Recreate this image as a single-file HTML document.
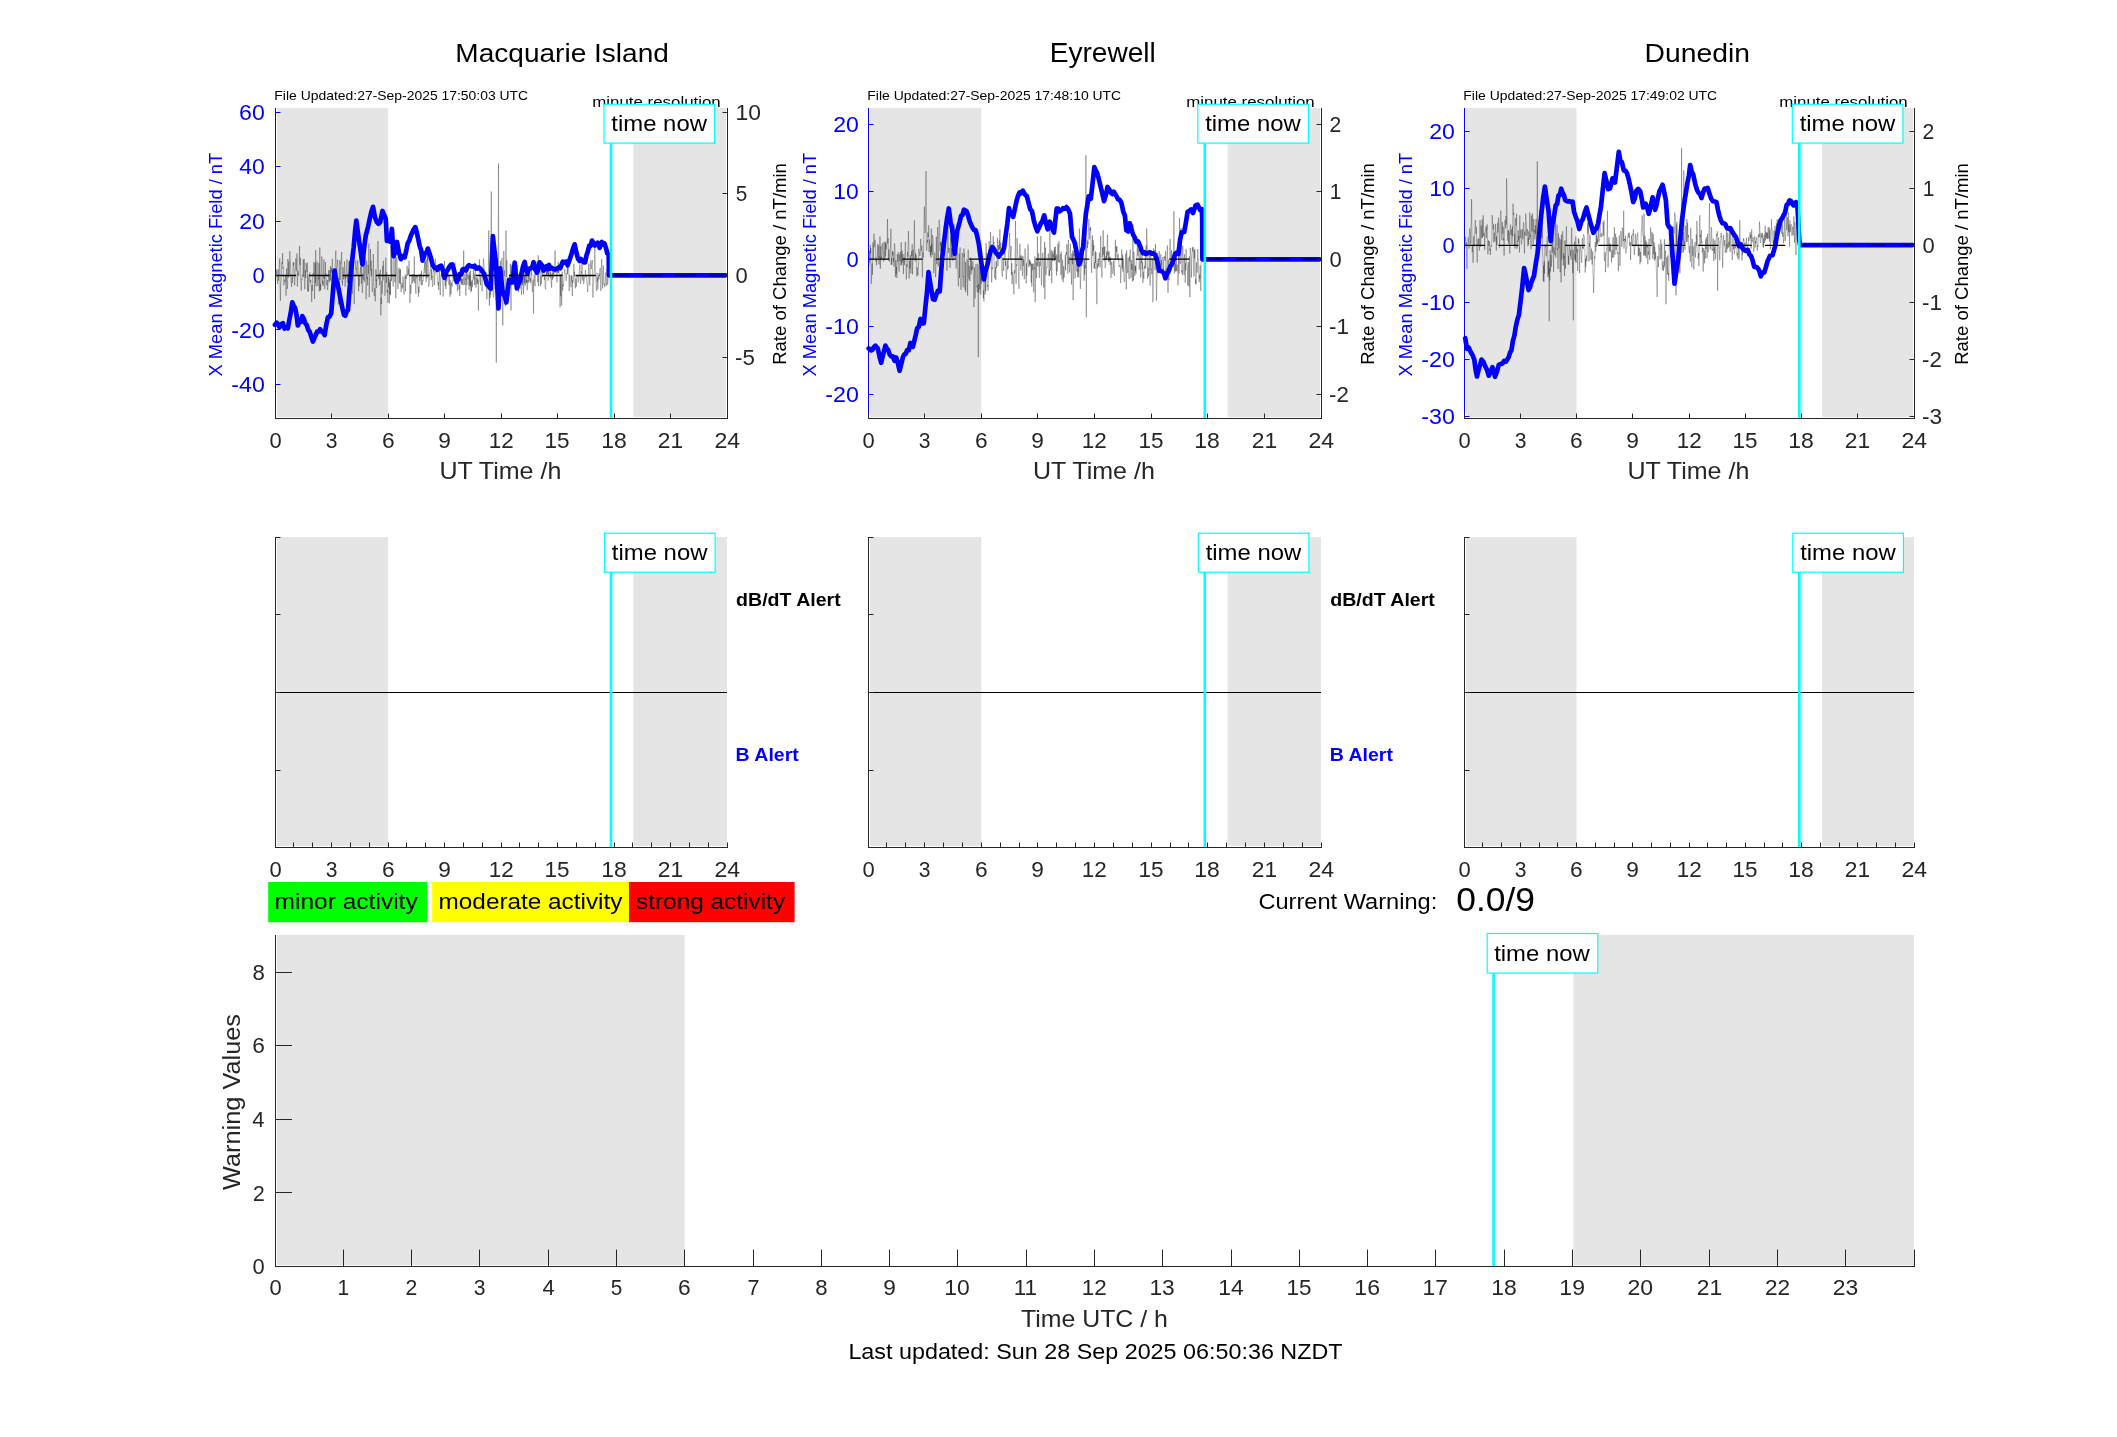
<!DOCTYPE html>
<html><head><meta charset="utf-8"><style>
html,body{margin:0;padding:0;background:#fff;overflow:hidden;width:2117px;height:1437px;}
svg{display:block;will-change:transform;}
text{font-family:"Liberation Sans",sans-serif;}
</style></head><body>
<svg width="2117" height="1437" viewBox="0 0 2117 1437">
<rect width="2117" height="1437" fill="#fff"/>
<rect x="277.00" y="108.00" width="111.00" height="309.00" fill="#e5e5e5" />
<rect x="633.30" y="108.00" width="92.70" height="309.00" fill="#e5e5e5" />
<polyline points="276.0,272.4 276.3,273.6 276.6,269.6 276.9,276.1 277.3,281.4 277.6,283.8 277.9,270.2 278.2,269.3 278.5,280.8 278.8,275.5 279.1,273.3 279.4,261.9 279.8,258.3 280.1,286.6 280.4,300.8 280.7,286.2 281.0,281.0 281.3,280.6 281.6,263.7 281.9,262.1 282.3,264.1 282.6,253.0 282.9,268.7 283.2,266.8 283.5,275.2 283.8,285.4 284.1,284.1 284.4,279.7 284.8,280.1 285.1,281.8 285.4,275.9 285.7,277.2 286.0,295.6 286.3,282.8 286.6,268.4 287.0,281.4 287.3,288.9 287.6,285.2 287.9,259.0 288.2,277.7 288.5,271.7 288.8,261.6 289.1,274.6 289.5,272.7 289.8,251.2 290.1,258.3 290.4,264.2 290.7,269.5 291.0,280.7 291.3,282.9 291.6,286.9 292.0,276.9 292.3,283.1 292.6,279.2 292.9,271.3 293.2,262.5 293.5,265.6 293.8,262.3 294.1,272.8 294.5,285.3 294.8,285.3 295.1,273.7 295.4,268.8 295.7,258.4 296.0,258.8 296.3,270.8 296.6,269.9 297.0,253.5 297.3,286.6 297.6,282.8 297.9,270.8 298.2,274.6 298.5,273.8 298.8,275.9 299.2,268.7 299.5,245.8 299.8,262.5 300.1,264.9 300.4,257.9 300.7,282.8 301.0,284.7 301.3,290.8 301.7,278.8 302.0,279.5 302.3,274.8 302.6,274.8 302.9,276.3 303.2,259.4 303.5,274.6 303.8,277.1 304.2,258.8 304.5,287.0 304.8,289.2 305.1,286.9 305.4,269.8 305.7,278.0 306.0,263.2 306.3,266.4 306.7,268.5 307.0,272.3 307.3,262.4 307.6,291.2 307.9,274.6 308.2,274.6 308.5,291.7 308.9,286.3 309.2,283.3 309.5,276.7 309.8,272.5 310.1,279.2 310.4,282.3 310.7,279.9 311.0,283.0 311.4,288.6 311.7,301.9 312.0,285.0 312.3,291.0 312.6,275.7 312.9,275.4 313.2,273.0 313.5,274.7 313.9,261.9 314.2,270.7 314.5,299.0 314.8,279.7 315.1,263.2 315.4,282.9 315.7,250.1 316.0,286.3 316.4,268.4 316.7,267.2 317.0,261.4 317.3,264.0 317.6,280.9 317.9,286.2 318.2,277.4 318.6,279.3 318.9,263.1 319.2,291.4 319.5,285.0 319.8,247.5 320.1,290.6 320.4,283.9 320.7,290.3 321.1,283.1 321.4,267.9 321.7,256.5 322.0,259.2 322.3,276.3 322.6,284.3 322.9,280.8 323.2,286.2 323.6,269.7 323.9,259.3 324.2,278.6 324.5,275.1 324.8,289.1 325.1,277.8 325.4,262.0 325.7,275.5 326.1,273.5 326.4,282.0 326.7,285.4 327.0,284.2 327.3,280.0 327.6,290.0 327.9,286.7 328.3,279.9 328.6,270.0 328.9,277.4 329.2,282.4 329.5,279.3 329.8,270.5 330.1,280.2 330.4,266.0 330.8,280.8 331.1,278.4 331.4,267.9 331.7,272.6 332.0,266.0 332.3,258.8 332.6,266.4 332.9,276.8 333.3,269.2 333.6,286.5 333.9,283.9 334.2,279.3 334.5,271.3 334.8,281.6 335.1,277.4 335.4,257.5 335.8,250.6 336.1,262.6 336.4,270.7 336.7,268.0 337.0,265.7 337.3,264.8 337.6,259.7 337.9,265.4 338.3,304.5 338.6,300.9 338.9,277.8 339.2,293.3 339.5,284.0 339.8,260.0 340.1,280.0 340.5,271.3 340.8,262.4 341.1,263.2 341.4,255.6 341.7,252.0 342.0,282.4 342.3,280.9 342.6,285.6 343.0,267.2 343.3,273.3 343.6,279.4 343.9,277.5 344.2,270.8 344.5,261.4 344.8,268.1 345.1,286.9 345.5,274.7 345.8,278.5 346.1,272.5 346.4,269.0 346.7,265.3 347.0,259.3 347.3,282.8 347.6,274.0 348.0,274.1 348.3,279.7 348.6,276.3 348.9,261.5 349.2,273.7 349.5,260.5 349.8,271.7 350.2,260.8 350.5,265.5 350.8,278.3 351.1,268.3 351.4,264.9 351.7,257.5 352.0,269.2 352.3,294.1 352.7,283.5 353.0,245.5 353.3,261.7 353.6,278.6 353.9,287.1 354.2,304.2 354.5,290.4 354.8,286.0 355.2,270.4 355.5,268.7 355.8,260.5 356.1,269.2 356.4,269.0 356.7,268.2 357.0,275.9 357.3,268.1 357.7,260.4 358.0,264.0 358.3,273.2 358.6,291.3 358.9,275.1 359.2,286.2 359.5,277.5 359.9,273.4 360.2,272.1 360.5,266.9 360.8,276.7 361.1,277.6 361.4,283.9 361.7,263.9 362.0,284.7 362.4,292.9 362.7,284.6 363.0,273.8 363.3,280.0 363.6,272.5 363.9,252.2 364.2,282.1 364.5,280.1 364.9,267.9 365.2,257.6 365.5,269.8 365.8,275.5 366.1,299.3 366.4,276.9 366.7,260.8 367.0,279.2 367.4,277.0 367.7,285.4 368.0,264.7 368.3,272.4 368.6,273.7 368.9,243.5 369.2,297.1 369.5,282.2 369.9,276.1 370.2,268.2 370.5,249.0 370.8,270.6 371.1,260.7 371.4,276.3 371.7,269.1 372.1,289.9 372.4,292.0 372.7,285.3 373.0,282.5 373.3,253.9 373.6,274.9 373.9,286.5 374.2,296.1 374.6,288.3 374.9,288.4 375.2,301.3 375.5,295.1 375.8,269.4 376.1,281.0 376.4,279.3 376.7,288.0 377.1,269.5 377.4,267.4 377.7,248.8 378.0,241.0 378.3,258.8 378.6,273.7 378.9,279.2 379.2,273.6 379.6,285.3 379.9,276.2 380.2,269.8 380.5,269.9 380.8,315.5 381.1,297.7 381.4,304.2 381.8,280.8 382.1,293.9 382.4,286.9 382.7,266.0 383.0,280.5 383.3,260.6 383.6,269.3 383.9,272.6 384.3,276.1 384.6,281.2 384.9,295.7 385.2,293.3 385.5,273.3 385.8,257.7 386.1,276.6 386.4,282.7 386.8,272.3 387.1,292.6 387.4,289.8 387.7,298.4 388.0,302.8 388.3,277.0 388.6,287.4 388.9,276.8 389.3,303.4 389.6,282.1 389.9,294.5 390.2,279.2 390.5,295.1 390.8,245.5 391.1,262.1 391.5,281.0 391.8,254.0 392.1,270.1 392.4,275.0 392.7,278.9 393.0,284.9 393.3,286.5 393.6,267.4 394.0,248.5 394.3,269.6 394.6,279.5 394.9,282.4 395.2,277.8 395.5,254.1 395.8,298.2 396.1,278.8 396.5,275.1 396.8,257.1 397.1,261.7 397.4,277.2 397.7,280.5 398.0,289.0 398.3,271.8 398.6,270.6 399.0,267.7 399.3,283.2 399.6,269.5 399.9,270.1 400.2,284.0 400.5,269.2 400.8,286.9 401.2,292.2 401.5,285.4 401.8,286.4 402.1,282.8 402.4,288.3 402.7,288.3 403.0,276.5 403.3,284.7 403.7,288.9 404.0,294.5 404.3,280.9 404.6,279.7 404.9,275.6 405.2,276.7 405.5,291.4 405.8,274.3 406.2,279.0 406.5,276.4 406.8,275.5 407.1,265.9 407.4,275.6 407.7,274.7 408.0,273.8 408.3,268.7 408.7,274.7 409.0,260.7 409.3,274.4 409.6,278.2 409.9,302.9 410.2,291.5 410.5,284.8 410.8,293.7 411.2,287.1 411.5,283.4 411.8,274.6 412.1,278.4 412.4,279.8 412.7,283.4 413.0,274.2 413.4,279.3 413.7,281.1 414.0,273.9 414.3,256.6 414.6,280.3 414.9,283.2 415.2,275.8 415.5,287.2 415.9,293.8 416.2,281.6 416.5,275.2 416.8,277.6 417.1,276.7 417.4,276.1 417.7,284.6 418.0,289.8 418.4,296.7 418.7,286.9 419.0,292.9 419.3,274.6 419.6,280.8 419.9,277.8 420.2,278.1 420.5,273.9 420.9,277.0 421.2,284.7 421.5,270.8 421.8,281.0 422.1,285.6 422.4,284.6 422.7,280.1 423.1,280.8 423.4,275.9 423.7,276.9 424.0,268.8 424.3,268.8 424.6,262.1 424.9,273.1 425.2,270.2 425.6,260.8 425.9,274.0 426.2,281.8 426.5,270.3 426.8,259.1 427.1,278.3 427.4,252.7 427.7,260.5 428.1,248.4 428.4,274.7 428.7,286.8 429.0,285.0 429.3,284.0 429.6,276.8 429.9,270.8 430.2,269.3 430.6,267.3 430.9,265.7 431.2,280.2 431.5,269.1 431.8,277.8 432.1,276.1 432.4,287.0 432.8,286.3 433.1,267.8 433.4,268.1 433.7,271.3 434.0,262.8 434.3,283.9 434.6,285.3 434.9,278.0 435.3,258.8 435.6,260.6 435.9,269.8 436.2,272.4 436.5,271.6 436.8,272.7 437.1,274.7 437.4,276.7 437.8,283.2 438.1,285.3 438.4,282.0 438.7,290.1 439.0,277.4 439.3,268.1 439.6,277.6 439.9,283.4 440.3,295.2 440.6,280.3 440.9,274.9 441.2,274.0 441.5,276.8 441.8,274.8 442.1,270.2 442.4,282.2 442.8,287.6 443.1,296.6 443.4,289.9 443.7,285.5 444.0,274.5 444.3,277.3 444.6,261.0 445.0,279.6 445.3,286.1 445.6,275.0 445.9,289.1 446.2,283.4 446.5,273.8 446.8,281.5 447.1,272.5 447.5,277.0 447.8,274.5 448.1,267.5 448.4,272.9 448.7,280.2 449.0,285.0 449.3,274.7 449.6,277.1 450.0,296.7 450.3,280.3 450.6,286.7 450.9,294.3 451.2,290.5 451.5,282.5 451.8,284.8 452.1,286.6 452.5,282.9 452.8,279.5 453.1,274.3 453.4,270.9 453.7,281.3 454.0,271.5 454.3,266.3 454.7,265.7 455.0,262.6 455.3,280.4 455.6,277.7 455.9,282.8 456.2,285.6 456.5,280.5 456.8,271.6 457.2,279.9 457.5,291.2 457.8,282.5 458.1,283.1 458.4,284.5 458.7,282.7 459.0,289.4 459.3,284.6 459.7,296.1 460.0,295.0 460.3,268.6 460.6,275.8 460.9,282.0 461.2,277.6 461.5,284.4 461.8,278.8 462.2,283.7 462.5,284.8 462.8,278.8 463.1,285.3 463.4,269.4 463.7,250.5 464.0,278.2 464.4,281.2 464.7,284.8 465.0,273.7 465.3,279.9 465.6,278.7 465.9,295.5 466.2,275.5 466.5,272.6 466.9,285.1 467.2,272.9 467.5,276.2 467.8,277.7 468.1,279.5 468.4,274.7 468.7,279.1 469.0,289.7 469.4,271.8 469.7,285.5 470.0,274.9 470.3,285.9 470.6,270.6 470.9,292.3 471.2,281.6 471.5,290.8 471.9,281.3 472.2,279.8 472.5,286.9 472.8,282.8 473.1,276.9 473.4,269.4 473.7,279.3 474.1,274.1 474.4,275.7 474.7,285.0 475.0,269.8 475.3,269.9 475.6,272.1 475.9,287.6 476.2,277.5 476.6,279.9 476.9,284.2 477.2,283.5 477.5,277.8 477.8,283.6 478.1,279.7 478.4,310.5 478.7,282.8 479.1,281.0 479.4,259.3 479.7,265.8 480.0,273.5 480.3,281.5 480.6,285.1 480.9,274.8 481.2,286.6 481.6,287.1 481.9,289.8 482.2,291.3 482.5,282.8 482.8,267.7 483.1,269.5 483.4,258.5 483.7,260.5 484.1,267.2 484.4,270.1 484.7,273.6 485.0,279.4 485.3,273.4 485.6,282.4 485.9,272.3 486.3,286.5 486.6,291.8 486.9,299.2 487.2,286.3 487.5,287.3 487.8,283.9 488.1,273.6 488.4,271.8 488.8,230.5 489.1,296.9 489.4,305.8 489.7,291.7 490.0,298.1 490.3,290.0 490.6,295.1 490.9,274.8 491.3,191.5 491.6,291.3 491.9,277.5 492.2,288.4 492.5,289.3 492.8,288.5 493.1,294.3 493.4,297.2 493.8,294.7 494.1,286.3 494.4,276.6 494.7,274.3 495.0,279.7 495.3,288.8 495.6,282.7 496.0,274.9 496.3,362.5 496.6,272.0 496.9,277.7 497.2,285.9 497.5,288.3 497.8,270.1 498.1,276.5 498.5,163.5 498.8,272.2 499.1,296.5 499.4,277.2 499.7,274.4 500.0,296.4 500.3,280.4 500.6,260.9 501.0,271.2 501.3,288.0 501.6,277.0 501.9,257.9 502.2,262.2 502.5,268.8 502.8,325.5 503.1,284.7 503.5,272.3 503.8,251.0 504.1,275.9 504.4,270.4 504.7,276.4 505.0,296.8 505.3,306.4 505.7,274.8 506.0,230.5 506.3,276.9 506.6,274.0 506.9,260.4 507.2,281.1 507.5,291.3 507.8,291.4 508.2,294.9 508.5,300.6 508.8,287.3 509.1,295.6 509.4,275.9 509.7,274.8 510.0,282.9 510.3,263.7 510.7,281.1 511.0,310.5 511.3,264.7 511.6,273.8 511.9,281.4 512.2,279.1 512.5,275.2 512.8,269.3 513.2,275.5 513.5,278.9 513.8,272.7 514.1,281.4 514.4,285.1 514.7,281.5 515.0,286.1 515.4,285.0 515.7,280.8 516.0,277.6 516.3,262.9 516.6,280.1 516.9,278.4 517.2,265.3 517.5,278.0 517.9,273.6 518.2,278.2 518.5,292.2 518.8,285.9 519.1,275.2 519.4,273.5 519.7,286.1 520.0,288.5 520.4,271.3 520.7,268.8 521.0,278.8 521.3,289.1 521.6,294.9 521.9,290.0 522.2,272.5 522.5,285.1 522.9,278.4 523.2,271.8 523.5,294.2 523.8,286.8 524.1,268.9 524.4,283.6 524.7,276.5 525.0,285.9 525.4,285.3 525.7,268.4 526.0,283.2 526.3,279.6 526.6,282.5 526.9,274.5 527.2,290.2 527.6,280.0 527.9,280.8 528.2,283.1 528.5,273.1 528.8,281.1 529.1,281.9 529.4,267.6 529.7,278.4 530.1,280.9 530.4,278.1 530.7,283.0 531.0,273.3 531.3,274.8 531.6,266.9 531.9,277.8 532.2,290.5 532.6,292.2 532.9,282.4 533.2,279.6 533.5,313.5 533.8,284.1 534.1,274.5 534.4,274.9 534.7,282.6 535.1,286.0 535.4,271.1 535.7,274.8 536.0,270.5 536.3,264.2 536.6,266.8 536.9,261.4 537.3,268.4 537.6,282.0 537.9,279.1 538.2,255.4 538.5,286.2 538.8,275.6 539.1,267.2 539.4,267.1 539.8,272.9 540.1,261.9 540.4,286.2 540.7,279.6 541.0,275.5 541.3,284.0 541.6,270.5 541.9,273.3 542.3,273.8 542.6,277.0 542.9,272.3 543.2,268.4 543.5,265.8 543.8,267.3 544.1,274.3 544.4,280.0 544.8,276.4 545.1,287.8 545.4,288.0 545.7,289.2 546.0,279.5 546.3,271.1 546.6,275.0 547.0,269.7 547.3,274.0 547.6,268.5 547.9,269.1 548.2,280.7 548.5,269.4 548.8,276.6 549.1,270.5 549.5,265.4 549.8,268.8 550.1,273.4 550.4,277.7 550.7,271.7 551.0,282.9 551.3,282.5 551.6,287.6 552.0,273.7 552.3,279.9 552.6,269.4 552.9,269.6 553.2,278.1 553.5,273.4 553.8,270.1 554.1,273.8 554.5,269.3 554.8,260.2 555.1,250.6 555.4,265.1 555.7,272.8 556.0,268.8 556.3,270.7 556.6,278.3 557.0,282.4 557.3,278.1 557.6,266.0 557.9,272.8 558.2,261.8 558.5,272.8 558.8,266.2 559.2,273.7 559.5,274.3 559.8,277.6 560.1,307.4 560.4,274.7 560.7,296.3 561.0,274.0 561.3,280.3 561.7,305.6 562.0,275.6 562.3,271.6 562.6,290.6 562.9,284.6 563.2,286.4 563.5,285.5 563.8,281.2 564.2,274.3 564.5,273.4 564.8,269.2 565.1,272.2 565.4,273.8 565.7,274.6 566.0,280.8 566.3,280.5 566.7,273.6 567.0,274.2 567.3,267.2 567.6,274.1 567.9,264.7 568.2,262.5 568.5,265.6 568.9,275.4 569.2,291.0 569.5,274.7 569.8,276.0 570.1,281.0 570.4,281.5 570.7,283.3 571.0,287.1 571.4,275.2 571.7,280.9 572.0,276.1 572.3,296.0 572.6,280.2 572.9,283.1 573.2,281.3 573.5,279.8 573.9,263.7 574.2,276.5 574.5,271.7 574.8,277.4 575.1,285.8 575.4,288.4 575.7,278.6 576.0,279.5 576.4,286.6 576.7,275.0 577.0,275.7 577.3,274.9 577.6,276.8 577.9,275.7 578.2,282.4 578.6,279.9 578.9,278.3 579.2,272.9 579.5,267.4 579.8,264.5 580.1,264.9 580.4,283.8 580.7,283.3 581.1,280.0 581.4,271.6 581.7,272.9 582.0,262.3 582.3,273.0 582.6,278.9 582.9,280.5 583.2,274.6 583.6,283.9 583.9,283.8 584.2,280.4 584.5,277.3 584.8,277.8 585.1,275.5 585.4,270.1 585.7,273.0 586.1,277.0 586.4,275.2 586.7,279.9 587.0,283.9 587.3,285.8 587.6,292.0 587.9,288.3 588.3,277.7 588.6,267.7 588.9,263.5 589.2,273.2 589.5,281.2 589.8,285.5 590.1,279.3 590.4,264.2 590.8,260.4 591.1,269.1 591.4,268.1 591.7,264.2 592.0,263.2 592.3,260.1 592.6,274.3 592.9,297.5 593.3,283.6 593.6,282.6 593.9,275.5 594.2,270.9 594.5,269.5 594.8,242.0 595.1,260.6 595.4,274.5 595.8,278.4 596.1,285.7 596.4,288.2 596.7,291.0 597.0,272.8 597.3,281.5 597.6,278.2 597.9,289.1 598.3,277.0 598.6,275.1 598.9,279.4 599.2,273.4 599.5,276.3 599.8,272.3 600.1,267.9 600.5,278.4 600.8,290.9 601.1,283.4 601.4,267.4 601.7,259.0 602.0,270.3 602.3,277.1 602.6,288.5 603.0,272.7 603.3,265.4 603.6,275.4 603.9,284.8 604.2,284.2 604.5,283.7 604.8,287.2 605.1,280.2 605.5,272.6 605.8,274.3 606.1,285.6 606.4,286.0 606.7,278.9 607.0,268.9 607.3,272.0 607.6,284.6 608.0,280.8 608.3,277.0 608.6,270.5 608.9,276.1" fill="none" stroke="#1a1a1a" stroke-width="0.32" stroke-linejoin="miter"/>
<polyline points="275.0,324.8 276.7,322.7 278.1,324.5 279.5,327.1 281.1,324.2 282.8,323.1 284.5,328.5 286.1,327.1 287.8,328.4 289.3,320.1 290.8,312.5 292.3,302.4 293.7,305.8 295.1,307.9 296.5,314.4 297.8,325.4 299.3,322.2 300.8,321.9 302.3,316.1 303.8,318.6 305.2,323.3 306.7,325.0 308.2,329.8 309.8,332.0 311.3,336.7 312.9,341.6 314.3,338.5 315.7,335.0 317.2,331.5 318.6,331.6 320.1,329.3 321.6,331.6 323.1,332.5 324.6,335.1 326.2,325.3 327.9,317.3 329.5,316.7 331.2,313.3 332.9,292.5 334.6,270.6 336.1,280.2 337.5,283.8 339.0,291.0 340.7,299.9 342.3,307.7 344.0,315.0 345.3,315.7 346.7,311.3 348.0,310.1 349.5,290.0 350.9,273.7 352.4,258.4 353.7,247.2 355.0,232.1 356.3,220.6 357.7,231.1 359.1,241.0 360.8,252.3 362.4,264.5 364.1,248.0 365.8,235.3 368.0,227.1 369.7,219.1 371.3,211.9 373.0,206.8 374.9,217.1 376.9,222.2 378.5,223.8 380.2,222.1 382.5,211.0 384.1,214.8 385.8,219.0 386.9,241.0 388.6,240.1 390.3,241.8 391.9,228.8 393.6,256.2 395.3,251.7 397.0,242.0 398.9,252.3 400.9,259.2 402.8,256.3 404.7,257.4 406.2,250.9 407.7,243.2 409.2,240.9 410.7,236.0 412.2,232.7 413.8,229.3 415.3,227.2 416.8,232.4 418.2,238.9 419.7,246.1 421.1,250.0 422.6,260.6 425.0,253.2 426.4,252.9 427.8,248.6 429.5,253.3 431.1,258.5 432.8,265.4 434.5,267.7 435.9,267.7 437.3,269.8 439.2,266.5 441.2,265.7 442.9,270.6 444.5,277.8 446.1,271.8 447.8,269.8 449.3,266.9 450.8,264.8 452.3,264.4 453.8,269.2 455.2,275.4 456.7,281.7 458.2,279.5 459.7,274.0 461.2,274.2 462.9,269.0 464.5,269.0 466.0,270.5 467.5,266.6 469.0,265.2 470.4,266.2 471.8,266.3 473.2,266.6 474.6,265.8 476.0,268.5 477.4,268.6 478.7,267.4 480.1,268.4 482.1,271.1 484.0,273.7 485.4,278.5 486.8,284.4 488.8,286.5 490.7,288.8 492.9,236.2 494.3,249.2 495.7,260.3 497.1,284.3 498.5,308.5 500.2,268.4 502.4,290.2 503.7,294.6 505.0,296.8 506.3,302.4 507.7,290.0 509.1,279.8 510.8,282.1 512.4,282.4 514.7,262.6 516.9,288.5 518.5,284.1 520.2,280.8 521.7,272.5 523.2,265.8 524.7,262.0 526.1,270.3 527.5,272.9 529.0,268.7 530.5,268.3 532.1,267.6 533.6,262.2 535.2,269.5 536.9,272.7 538.3,269.1 539.7,262.3 541.7,265.0 543.6,270.6 544.9,267.0 546.3,266.2 547.6,269.0 549.0,265.0 550.3,268.6 552.0,267.9 553.6,268.9 554.9,269.5 556.3,269.0 557.6,268.4 559.0,267.2 560.3,268.2 562.8,261.7 564.5,262.6 566.3,261.6 567.6,265.3 569.0,261.4 571.1,255.3 572.9,249.0 574.6,244.3 576.4,252.7 578.1,259.0 579.5,261.0 580.9,259.0 582.3,260.6 583.7,262.3 585.1,262.4 586.5,255.2 587.8,251.6 589.2,245.7 590.6,246.0 592.0,240.6 593.4,242.7 594.8,245.6 596.2,243.9 597.6,242.7 599.7,247.8 601.8,241.9 603.1,244.2 604.5,243.4 605.9,247.9 607.3,253.3 608.7,254.3 608.9,275.3 725.5,275.3" fill="none" stroke="#0000ff" stroke-width="4.7" stroke-linejoin="round" stroke-linecap="round" />
<line x1="276.00" y1="275.50" x2="727.00" y2="275.50" stroke="#000" stroke-width="1.3" stroke-dasharray="20.2 13.08"/>
<line x1="611.00" y1="108.00" x2="611.00" y2="418.00" stroke="#00ffff" stroke-width="2.6" />
<line x1="275.50" y1="108.00" x2="275.50" y2="419.00" stroke="#0000ff" stroke-width="1" />
<line x1="727.50" y1="108.00" x2="727.50" y2="419.00" stroke="#262626" stroke-width="1" />
<line x1="275.00" y1="418.50" x2="728.00" y2="418.50" stroke="#262626" stroke-width="1" />
<line x1="275.50" y1="418.00" x2="275.50" y2="413.50" stroke="#262626" stroke-width="1" />
<text transform="translate(269.39,447.70) scale(0.9949,1)" font-size="22.07" font-weight="normal" fill="#262626">0</text>
<line x1="331.50" y1="418.00" x2="331.50" y2="413.50" stroke="#262626" stroke-width="1" />
<text transform="translate(325.70,447.70) scale(0.9554,1)" font-size="22.07" font-weight="normal" fill="#262626">3</text>
<line x1="388.50" y1="418.00" x2="388.50" y2="413.50" stroke="#262626" stroke-width="1" />
<text transform="translate(382.10,447.70) scale(1.0296,1)" font-size="22.07" font-weight="normal" fill="#262626">6</text>
<line x1="444.50" y1="418.00" x2="444.50" y2="413.50" stroke="#262626" stroke-width="1" />
<text transform="translate(438.20,447.70) scale(1.0276,1)" font-size="22.07" font-weight="normal" fill="#262626">9</text>
<line x1="501.50" y1="418.00" x2="501.50" y2="413.50" stroke="#262626" stroke-width="1" />
<text transform="translate(488.72,447.70) scale(1.0171,1)" font-size="22.07" font-weight="normal" fill="#262626">12</text>
<line x1="557.50" y1="418.00" x2="557.50" y2="413.50" stroke="#262626" stroke-width="1" />
<text transform="translate(544.59,447.70) scale(1.0207,1)" font-size="22.07" font-weight="normal" fill="#262626">15</text>
<line x1="614.50" y1="418.00" x2="614.50" y2="413.50" stroke="#262626" stroke-width="1" />
<text transform="translate(601.35,447.70) scale(1.0403,1)" font-size="22.07" font-weight="normal" fill="#262626">18</text>
<line x1="670.50" y1="418.00" x2="670.50" y2="413.50" stroke="#262626" stroke-width="1" />
<text transform="translate(657.83,447.70) scale(1.0311,1)" font-size="22.07" font-weight="normal" fill="#262626">21</text>
<line x1="727.50" y1="418.00" x2="727.50" y2="413.50" stroke="#262626" stroke-width="1" />
<text transform="translate(714.44,447.70) scale(1.0446,1)" font-size="22.07" font-weight="normal" fill="#262626">24</text>
<line x1="276.00" y1="112.50" x2="280.50" y2="112.50" stroke="#0000ff" stroke-width="1" />
<text transform="translate(239.06,119.84) scale(1.0488,1)" font-size="22.07" font-weight="normal" fill="#0000ff">60</text>
<line x1="276.00" y1="166.50" x2="280.50" y2="166.50" stroke="#0000ff" stroke-width="1" />
<text transform="translate(239.27,174.26) scale(1.0398,1)" font-size="22.07" font-weight="normal" fill="#0000ff">40</text>
<line x1="276.00" y1="221.50" x2="280.50" y2="221.50" stroke="#0000ff" stroke-width="1" />
<text transform="translate(239.14,228.68) scale(1.0451,1)" font-size="22.07" font-weight="normal" fill="#0000ff">20</text>
<line x1="276.00" y1="275.50" x2="280.50" y2="275.50" stroke="#0000ff" stroke-width="1" />
<text transform="translate(252.55,283.10) scale(0.9949,1)" font-size="22.07" font-weight="normal" fill="#0000ff">0</text>
<line x1="276.00" y1="329.50" x2="280.50" y2="329.50" stroke="#0000ff" stroke-width="1" />
<text transform="translate(231.25,337.52) scale(1.0520,1)" font-size="22.07" font-weight="normal" fill="#0000ff">-20</text>
<line x1="276.00" y1="384.50" x2="280.50" y2="384.50" stroke="#0000ff" stroke-width="1" />
<text transform="translate(231.25,391.94) scale(1.0520,1)" font-size="22.07" font-weight="normal" fill="#0000ff">-40</text>
<line x1="727.00" y1="112.50" x2="722.50" y2="112.50" stroke="#262626" stroke-width="1" />
<text transform="translate(735.54,119.80) scale(1.0376,1)" font-size="22.07" font-weight="normal" fill="#262626">10</text>
<line x1="727.00" y1="193.50" x2="722.50" y2="193.50" stroke="#262626" stroke-width="1" />
<text transform="translate(735.78,201.45) scale(0.9389,1)" font-size="22.07" font-weight="normal" fill="#262626">5</text>
<line x1="727.00" y1="275.50" x2="722.50" y2="275.50" stroke="#262626" stroke-width="1" />
<text transform="translate(735.52,283.10) scale(0.9949,1)" font-size="22.07" font-weight="normal" fill="#262626">0</text>
<line x1="727.00" y1="357.50" x2="722.50" y2="357.50" stroke="#262626" stroke-width="1" />
<text transform="translate(735.02,364.75) scale(1.0121,1)" font-size="22.07" font-weight="normal" fill="#262626">-5</text>
<text transform="translate(439.39,479.00) scale(1.0327,1)" font-size="24.26" font-weight="normal" fill="#262626">UT Time /h</text>
<text transform="translate(222.00,376.40) rotate(-90) scale(1.0469,1)" font-size="17.48" font-weight="normal" fill="#0000ff">X Mean Magnetic Field / nT</text>
<text transform="translate(786.20,364.82) rotate(-90) scale(1.0537,1)" font-size="17.59" font-weight="normal" fill="#000">Rate of Change / nT/min</text>
<text transform="translate(455.33,61.90) scale(1.0507,1)" font-size="26.70" font-weight="normal" fill="#000">Macquarie Island</text>
<text transform="translate(274.36,99.80) scale(1.0471,1)" font-size="13.31" font-weight="normal" fill="#000">File Updated:27-Sep-2025 17:50:03 UTC</text>
<text transform="translate(592.21,106.80) scale(1.0915,1)" font-size="15.47" font-weight="normal" fill="#000">minute resolution</text>
<rect x="604.0" y="104.3" width="110.6" height="38.8" fill="#fff" stroke="#00ffff" stroke-width="1.2"/>
<text transform="translate(611.34,130.70) scale(1.0817,1)" font-size="22.09" font-weight="normal" fill="#000">time now</text>
<rect x="870.00" y="108.00" width="111.25" height="309.00" fill="#e5e5e5" />
<rect x="1227.50" y="108.00" width="92.50" height="309.00" fill="#e5e5e5" />
<polyline points="869.0,266.5 869.3,263.1 869.6,250.8 869.9,262.6 870.3,245.1 870.6,253.6 870.9,248.2 871.2,283.8 871.5,281.9 871.8,269.9 872.1,263.4 872.4,274.8 872.8,242.4 873.1,243.2 873.4,259.1 873.7,245.5 874.0,233.6 874.3,247.3 874.6,244.4 874.9,239.8 875.3,241.4 875.6,245.7 875.9,261.6 876.2,259.2 876.5,265.3 876.8,262.2 877.1,256.0 877.5,253.3 877.8,243.9 878.1,257.9 878.4,251.5 878.7,245.4 879.0,264.4 879.3,256.6 879.6,257.5 880.0,236.5 880.3,268.8 880.6,251.3 880.9,246.2 881.2,259.7 881.5,256.6 881.8,258.1 882.1,244.2 882.5,243.1 882.8,248.9 883.1,254.2 883.4,261.5 883.7,261.3 884.0,242.2 884.3,250.8 884.7,258.2 885.0,260.1 885.3,241.7 885.6,256.6 885.9,243.1 886.2,248.8 886.5,249.1 886.8,244.3 887.2,239.3 887.5,219.0 887.8,243.6 888.1,238.1 888.4,260.2 888.7,249.4 889.0,249.6 889.3,261.7 889.7,257.2 890.0,252.4 890.3,248.9 890.6,244.5 890.9,228.7 891.2,264.8 891.5,258.0 891.9,264.7 892.2,258.2 892.5,251.0 892.8,255.4 893.1,251.9 893.4,261.7 893.7,257.9 894.0,266.7 894.4,243.3 894.7,243.9 895.0,249.3 895.3,276.3 895.6,277.2 895.9,260.2 896.2,274.2 896.5,266.9 896.9,278.0 897.2,254.2 897.5,254.5 897.8,261.6 898.1,252.2 898.4,254.8 898.7,265.1 899.1,271.6 899.4,255.9 899.7,254.5 900.0,261.0 900.3,251.9 900.6,256.9 900.9,265.5 901.2,242.2 901.6,265.1 901.9,251.0 902.2,250.7 902.5,262.4 902.8,257.8 903.1,254.1 903.4,274.1 903.7,258.9 904.1,257.4 904.4,265.1 904.7,254.0 905.0,253.9 905.3,241.8 905.6,257.1 905.9,261.1 906.3,279.4 906.6,275.8 906.9,264.2 907.2,266.9 907.5,252.0 907.8,256.7 908.1,242.7 908.4,231.0 908.8,242.3 909.1,278.3 909.4,269.9 909.7,261.0 910.0,268.7 910.3,255.3 910.6,261.7 910.9,273.4 911.3,261.2 911.6,251.3 911.9,256.1 912.2,244.3 912.5,274.4 912.8,264.3 913.1,249.7 913.5,251.4 913.8,259.6 914.1,245.6 914.4,220.3 914.7,248.7 915.0,250.4 915.3,261.3 915.6,253.1 916.0,257.6 916.3,255.2 916.6,263.1 916.9,276.6 917.2,267.3 917.5,273.3 917.8,273.1 918.1,275.2 918.5,265.0 918.8,248.7 919.1,252.5 919.4,252.1 919.7,256.2 920.0,255.9 920.3,253.0 920.7,238.9 921.0,246.3 921.3,250.9 921.6,250.4 921.9,245.6 922.2,277.4 922.5,276.8 922.8,252.1 923.2,257.8 923.5,255.7 923.8,236.2 924.1,220.7 924.4,206.6 924.7,226.5 925.0,232.9 925.3,231.6 925.7,229.9 926.0,171.2 926.3,245.1 926.6,250.6 926.9,249.0 927.2,239.9 927.5,242.7 927.9,232.3 928.2,237.2 928.5,225.2 928.8,225.6 929.1,252.1 929.4,239.5 929.7,245.3 930.0,246.1 930.4,255.4 930.7,246.0 931.0,257.7 931.3,228.4 931.6,252.2 931.9,243.8 932.2,255.0 932.5,235.0 932.9,236.9 933.2,240.6 933.5,261.1 933.8,273.1 934.1,266.1 934.4,261.5 934.7,252.5 935.1,256.5 935.4,276.2 935.7,277.3 936.0,265.2 936.3,236.7 936.6,251.9 936.9,264.1 937.2,248.9 937.6,227.0 937.9,233.1 938.2,266.4 938.5,256.3 938.8,243.3 939.1,219.7 939.4,224.2 939.7,225.8 940.1,250.9 940.4,242.3 940.7,245.3 941.0,242.1 941.3,247.2 941.6,255.8 941.9,256.6 942.3,241.1 942.6,266.9 942.9,257.1 943.2,250.3 943.5,253.5 943.8,235.7 944.1,226.2 944.4,232.6 944.8,224.2 945.1,243.5 945.4,237.0 945.7,248.4 946.0,255.5 946.3,260.4 946.6,262.3 946.9,270.9 947.3,266.2 947.6,235.5 947.9,227.1 948.2,240.6 948.5,252.7 948.8,250.7 949.1,247.9 949.5,253.8 949.8,263.2 950.1,267.8 950.4,243.8 950.7,236.7 951.0,246.7 951.3,257.5 951.6,247.9 952.0,257.5 952.3,232.5 952.6,241.9 952.9,260.8 953.2,256.3 953.5,236.8 953.8,246.4 954.2,224.2 954.5,250.1 954.8,255.3 955.1,258.3 955.4,254.6 955.7,253.4 956.0,268.6 956.3,265.0 956.7,262.3 957.0,250.5 957.3,260.1 957.6,267.7 957.9,274.1 958.2,285.8 958.5,286.4 958.8,268.9 959.2,253.7 959.5,278.0 959.8,255.0 960.1,247.4 960.4,277.5 960.7,283.9 961.0,289.9 961.4,281.4 961.7,280.4 962.0,256.3 962.3,252.9 962.6,276.8 962.9,276.1 963.2,287.4 963.5,274.1 963.9,248.6 964.2,257.1 964.5,253.6 964.8,287.0 965.1,289.9 965.4,261.9 965.7,292.2 966.0,277.7 966.4,275.4 966.7,274.4 967.0,259.3 967.3,272.7 967.6,295.5 967.9,272.2 968.2,249.7 968.6,270.6 968.9,279.4 969.2,265.7 969.5,273.0 969.8,281.1 970.1,277.1 970.4,257.5 970.7,258.4 971.1,274.5 971.4,259.8 971.7,270.6 972.0,266.6 972.3,269.3 972.6,267.8 972.9,261.3 973.2,269.2 973.6,281.8 973.9,307.0 974.2,281.1 974.5,267.5 974.8,274.3 975.1,298.4 975.4,276.6 975.8,265.5 976.1,264.1 976.4,271.7 976.7,287.1 977.0,285.8 977.3,292.3 977.6,283.5 977.9,263.6 978.3,357.2 978.6,284.0 978.9,292.7 979.2,266.0 979.5,273.7 979.8,289.2 980.1,282.1 980.4,254.0 980.8,294.6 981.1,267.0 981.4,283.8 981.7,260.7 982.0,278.9 982.3,267.6 982.6,269.6 983.0,270.8 983.3,298.2 983.6,290.3 983.9,301.4 984.2,268.1 984.5,273.5 984.8,284.5 985.1,294.5 985.5,278.5 985.8,291.2 986.1,243.1 986.4,265.8 986.7,256.9 987.0,253.0 987.3,286.7 987.6,284.9 988.0,290.7 988.3,289.3 988.6,266.2 988.9,243.3 989.2,241.1 989.5,247.3 989.8,254.4 990.2,259.3 990.5,232.0 990.8,237.0 991.1,258.2 991.4,263.6 991.7,282.4 992.0,267.1 992.3,269.3 992.7,268.4 993.0,239.0 993.3,236.2 993.6,244.0 993.9,241.9 994.2,257.5 994.5,278.1 994.8,278.3 995.2,271.8 995.5,267.1 995.8,280.0 996.1,261.4 996.4,268.1 996.7,265.7 997.0,253.7 997.4,237.7 997.7,256.6 998.0,266.2 998.3,251.3 998.6,245.1 998.9,250.6 999.2,240.3 999.5,249.4 999.9,229.4 1000.2,246.1 1000.5,252.4 1000.8,242.7 1001.1,251.3 1001.4,263.2 1001.7,272.6 1002.0,274.1 1002.4,276.7 1002.7,264.4 1003.0,257.7 1003.3,264.8 1003.6,270.9 1003.9,265.1 1004.2,258.0 1004.6,249.7 1004.9,240.3 1005.2,251.1 1005.5,266.0 1005.8,260.9 1006.1,279.0 1006.4,279.4 1006.7,273.5 1007.1,264.4 1007.4,260.4 1007.7,269.7 1008.0,266.5 1008.3,267.6 1008.6,251.0 1008.9,251.1 1009.2,246.1 1009.6,233.0 1009.9,242.8 1010.2,258.0 1010.5,253.1 1010.8,250.8 1011.1,245.9 1011.4,274.7 1011.8,263.1 1012.1,284.2 1012.4,272.4 1012.7,271.9 1013.0,274.0 1013.3,276.7 1013.6,287.1 1013.9,294.2 1014.3,270.2 1014.6,273.3 1014.9,272.9 1015.2,245.6 1015.5,221.1 1015.8,268.6 1016.1,283.7 1016.4,264.5 1016.8,265.9 1017.1,238.1 1017.4,249.0 1017.7,253.8 1018.0,257.8 1018.3,265.7 1018.6,281.9 1019.0,288.9 1019.3,260.4 1019.6,256.0 1019.9,243.7 1020.2,257.9 1020.5,255.7 1020.8,270.5 1021.1,265.1 1021.5,261.4 1021.8,255.4 1022.1,262.6 1022.4,275.8 1022.7,272.0 1023.0,256.3 1023.3,266.0 1023.6,259.5 1024.0,264.3 1024.3,279.3 1024.6,260.4 1024.9,248.6 1025.2,249.9 1025.5,252.6 1025.8,263.3 1026.2,283.4 1026.5,263.2 1026.8,275.7 1027.1,266.9 1027.4,261.6 1027.7,255.9 1028.0,244.4 1028.3,248.3 1028.7,267.1 1029.0,267.0 1029.3,259.6 1029.6,264.6 1029.9,260.2 1030.2,265.9 1030.5,261.9 1030.8,261.9 1031.2,282.4 1031.5,263.7 1031.8,286.6 1032.1,269.0 1032.4,263.9 1032.7,270.2 1033.0,266.5 1033.4,263.4 1033.7,292.3 1034.0,279.1 1034.3,267.6 1034.6,268.8 1034.9,256.4 1035.2,302.1 1035.5,268.2 1035.9,260.6 1036.2,258.6 1036.5,278.2 1036.8,262.6 1037.1,264.8 1037.4,236.4 1037.7,260.0 1038.0,266.8 1038.4,253.2 1038.7,255.1 1039.0,267.0 1039.3,277.8 1039.6,262.8 1039.9,261.6 1040.2,266.1 1040.6,245.4 1040.9,235.9 1041.2,275.5 1041.5,285.3 1041.8,268.9 1042.1,267.3 1042.4,256.3 1042.7,252.9 1043.1,262.3 1043.4,267.9 1043.7,287.6 1044.0,269.2 1044.3,261.2 1044.6,241.7 1044.9,299.2 1045.2,256.9 1045.6,247.5 1045.9,275.1 1046.2,269.8 1046.5,268.0 1046.8,267.1 1047.1,267.6 1047.4,262.1 1047.8,259.2 1048.1,255.3 1048.4,253.5 1048.7,263.6 1049.0,276.0 1049.3,270.4 1049.6,275.5 1049.9,229.2 1050.3,270.9 1050.6,269.1 1050.9,266.6 1051.2,249.8 1051.5,271.5 1051.8,283.3 1052.1,252.2 1052.4,251.4 1052.8,261.1 1053.1,253.9 1053.4,257.8 1053.7,257.5 1054.0,250.5 1054.3,261.3 1054.6,247.2 1055.0,258.6 1055.3,246.7 1055.6,259.1 1055.9,256.2 1056.2,266.5 1056.5,275.6 1056.8,254.3 1057.1,271.6 1057.5,257.1 1057.8,243.8 1058.1,245.7 1058.4,262.1 1058.7,253.4 1059.0,241.3 1059.3,262.9 1059.6,259.8 1060.0,258.6 1060.3,256.0 1060.6,254.3 1060.9,275.0 1061.2,251.6 1061.5,258.7 1061.8,277.7 1062.2,279.5 1062.5,259.7 1062.8,263.9 1063.1,282.3 1063.4,280.5 1063.7,266.2 1064.0,277.7 1064.3,275.0 1064.7,270.9 1065.0,268.8 1065.3,254.6 1065.6,270.3 1065.9,257.4 1066.2,252.0 1066.5,254.8 1066.8,244.1 1067.2,250.6 1067.5,258.2 1067.8,273.5 1068.1,245.3 1068.4,240.0 1068.7,264.1 1069.0,256.9 1069.4,268.2 1069.7,272.4 1070.0,257.5 1070.3,243.8 1070.6,249.5 1070.9,264.5 1071.2,273.3 1071.5,284.4 1071.9,253.7 1072.2,262.4 1072.5,264.2 1072.8,250.5 1073.1,300.2 1073.4,276.1 1073.7,251.4 1074.0,256.2 1074.4,253.8 1074.7,270.9 1075.0,278.5 1075.3,273.8 1075.6,264.9 1075.9,265.1 1076.2,257.2 1076.6,248.3 1076.9,271.3 1077.2,255.4 1077.5,277.3 1077.8,269.1 1078.1,271.9 1078.4,262.4 1078.7,277.2 1079.1,255.1 1079.4,228.5 1079.7,249.7 1080.0,267.9 1080.3,288.9 1080.6,282.4 1080.9,273.0 1081.2,262.9 1081.6,253.8 1081.9,266.1 1082.2,255.5 1082.5,249.4 1082.8,241.7 1083.1,245.0 1083.4,246.3 1083.8,258.0 1084.1,280.7 1084.4,259.3 1084.7,274.6 1085.0,265.0 1085.3,268.4 1085.6,265.5 1085.9,155.2 1086.3,317.2 1086.6,254.2 1086.9,253.0 1087.2,239.8 1087.5,248.0 1087.8,242.3 1088.1,244.1 1088.4,231.5 1088.8,218.9 1089.1,221.0 1089.4,238.2 1089.7,239.4 1090.0,228.0 1090.3,230.4 1090.6,226.9 1091.0,243.0 1091.3,262.0 1091.6,272.8 1091.9,255.6 1092.2,250.3 1092.5,235.5 1092.8,256.0 1093.1,240.3 1093.5,250.9 1093.8,245.0 1094.1,268.2 1094.4,262.3 1094.7,267.7 1095.0,269.0 1095.3,251.3 1095.6,262.9 1096.0,252.2 1096.3,276.4 1096.6,280.0 1096.9,304.2 1097.2,263.4 1097.5,268.5 1097.8,261.7 1098.2,258.5 1098.5,266.3 1098.8,259.4 1099.1,260.0 1099.4,252.6 1099.7,261.1 1100.0,267.3 1100.3,262.6 1100.7,236.0 1101.0,253.6 1101.3,266.5 1101.6,271.2 1101.9,277.7 1102.2,271.2 1102.5,247.4 1102.8,256.8 1103.2,230.3 1103.5,252.9 1103.8,254.7 1104.1,247.0 1104.4,260.4 1104.7,246.4 1105.0,267.9 1105.4,266.5 1105.7,265.6 1106.0,255.7 1106.3,259.6 1106.6,251.6 1106.9,258.4 1107.2,245.1 1107.5,234.7 1107.9,255.4 1108.2,251.7 1108.5,261.9 1108.8,255.6 1109.1,251.4 1109.4,261.2 1109.7,256.6 1110.0,264.9 1110.4,260.4 1110.7,257.3 1111.0,277.9 1111.3,264.4 1111.6,262.1 1111.9,262.8 1112.2,273.9 1112.6,273.5 1112.9,273.0 1113.2,268.5 1113.5,260.7 1113.8,272.6 1114.1,272.6 1114.4,275.9 1114.7,263.3 1115.1,259.2 1115.4,239.7 1115.7,258.8 1116.0,256.1 1116.3,246.3 1116.6,251.6 1116.9,246.4 1117.2,255.8 1117.6,258.6 1117.9,258.6 1118.2,254.0 1118.5,261.2 1118.8,260.6 1119.1,267.0 1119.4,265.9 1119.8,265.0 1120.1,265.2 1120.4,266.5 1120.7,283.1 1121.0,273.8 1121.3,266.8 1121.6,249.5 1121.9,250.3 1122.3,268.6 1122.6,254.8 1122.9,271.6 1123.2,258.5 1123.5,263.0 1123.8,273.3 1124.1,282.2 1124.5,281.1 1124.8,274.1 1125.1,268.5 1125.4,265.8 1125.7,253.7 1126.0,272.8 1126.3,289.4 1126.6,250.3 1127.0,265.2 1127.3,269.7 1127.6,272.9 1127.9,262.7 1128.2,257.7 1128.5,271.4 1128.8,271.1 1129.1,279.1 1129.5,256.5 1129.8,261.4 1130.1,250.6 1130.4,249.5 1130.7,271.8 1131.0,277.9 1131.3,260.1 1131.7,269.8 1132.0,263.9 1132.3,280.5 1132.6,281.5 1132.9,224.2 1133.2,268.7 1133.5,280.4 1133.8,251.8 1134.2,255.3 1134.5,267.5 1134.8,275.9 1135.1,265.9 1135.4,271.3 1135.7,265.6 1136.0,273.8 1136.3,259.1 1136.7,258.5 1137.0,256.6 1137.3,242.9 1137.6,249.9 1137.9,256.2 1138.2,248.8 1138.5,250.1 1138.9,255.8 1139.2,269.6 1139.5,266.1 1139.8,259.5 1140.1,248.5 1140.4,253.1 1140.7,277.5 1141.0,263.3 1141.4,260.6 1141.7,263.1 1142.0,246.9 1142.3,269.8 1142.6,262.5 1142.9,283.0 1143.2,271.6 1143.5,277.0 1143.9,278.8 1144.2,267.3 1144.5,266.1 1144.8,268.7 1145.1,258.3 1145.4,257.3 1145.7,268.5 1146.1,245.6 1146.4,251.1 1146.7,228.5 1147.0,240.1 1147.3,242.7 1147.6,278.6 1147.9,271.0 1148.2,267.7 1148.6,276.4 1148.9,271.5 1149.2,249.8 1149.5,269.9 1149.8,272.9 1150.1,285.6 1150.4,273.3 1150.7,255.0 1151.1,270.0 1151.4,268.9 1151.7,274.2 1152.0,274.2 1152.3,258.5 1152.6,268.1 1152.9,302.2 1153.3,272.8 1153.6,248.2 1153.9,252.6 1154.2,253.8 1154.5,260.6 1154.8,250.0 1155.1,270.0 1155.4,244.2 1155.8,256.4 1156.1,271.0 1156.4,300.5 1156.7,294.4 1157.0,277.8 1157.3,253.1 1157.6,271.4 1157.9,273.6 1158.3,266.1 1158.6,270.7 1158.9,267.4 1159.2,251.1 1159.5,258.9 1159.8,267.6 1160.1,263.1 1160.5,270.3 1160.8,254.2 1161.1,266.6 1161.4,259.9 1161.7,262.1 1162.0,268.8 1162.3,258.8 1162.6,257.7 1163.0,256.9 1163.3,261.5 1163.6,270.0 1163.9,260.4 1164.2,256.9 1164.5,257.8 1164.8,256.4 1165.1,260.8 1165.5,251.3 1165.8,279.3 1166.1,268.1 1166.4,271.9 1166.7,267.0 1167.0,255.5 1167.3,245.4 1167.7,257.0 1168.0,292.8 1168.3,259.6 1168.6,272.9 1168.9,280.3 1169.2,266.3 1169.5,269.3 1169.8,247.0 1170.2,238.9 1170.5,258.0 1170.8,266.7 1171.1,262.8 1171.4,250.3 1171.7,251.8 1172.0,267.6 1172.3,254.9 1172.7,260.4 1173.0,259.9 1173.3,261.2 1173.6,261.8 1173.9,211.2 1174.2,272.8 1174.5,273.5 1174.9,251.9 1175.2,271.1 1175.5,263.3 1175.8,271.7 1176.1,270.1 1176.4,257.2 1176.7,271.0 1177.0,267.2 1177.4,264.7 1177.7,272.3 1178.0,285.2 1178.3,277.6 1178.6,256.5 1178.9,269.8 1179.2,273.4 1179.5,218.2 1179.9,253.3 1180.2,264.2 1180.5,252.1 1180.8,243.0 1181.1,228.0 1181.4,242.1 1181.7,272.4 1182.1,270.0 1182.4,275.1 1182.7,245.6 1183.0,253.2 1183.3,256.6 1183.6,257.9 1183.9,273.9 1184.2,274.9 1184.6,254.3 1184.9,259.8 1185.2,282.7 1185.5,263.2 1185.8,270.5 1186.1,249.1 1186.4,258.2 1186.7,262.1 1187.1,265.7 1187.4,266.7 1187.7,285.4 1188.0,273.1 1188.3,262.2 1188.6,262.6 1188.9,286.4 1189.3,256.3 1189.6,272.8 1189.9,297.2 1190.2,247.8 1190.5,250.6 1190.8,253.5 1191.1,256.7 1191.4,277.6 1191.8,258.5 1192.1,254.3 1192.4,247.3 1192.7,251.6 1193.0,250.0 1193.3,247.1 1193.6,259.4 1193.9,276.4 1194.3,250.5 1194.6,258.2 1194.9,248.8 1195.2,264.4 1195.5,283.6 1195.8,279.3 1196.1,284.4 1196.5,262.3 1196.8,268.1 1197.1,272.7 1197.4,268.5 1197.7,249.0 1198.0,259.8 1198.3,259.2 1198.6,269.2 1199.0,282.1 1199.3,281.4 1199.6,274.8 1199.9,278.7 1200.2,265.3 1200.5,285.4 1200.8,290.9 1201.1,266.6 1201.5,255.6 1201.8,246.6 1202.1,249.5 1202.4,262.1" fill="none" stroke="#1a1a1a" stroke-width="0.32" stroke-linejoin="miter"/>
<polyline points="868.7,348.4 871.2,350.4 872.6,349.6 874.0,347.0 875.4,345.7 877.9,348.6 879.5,356.6 881.2,362.8 882.6,356.6 884.0,351.0 885.4,345.6 886.8,348.4 888.2,350.1 889.6,354.3 891.2,356.4 892.9,356.3 894.5,360.8 896.2,357.5 897.9,363.3 899.6,370.8 901.2,364.1 902.9,357.2 904.3,354.3 905.7,354.0 907.1,350.1 908.8,350.2 910.4,343.0 912.9,346.8 914.3,341.0 915.7,335.1 917.1,328.4 918.8,326.8 920.5,319.0 922.1,323.4 923.8,323.3 925.5,306.3 927.0,292.1 928.5,272.2 930.5,285.0 933.0,299.2 934.6,299.7 936.3,294.7 938.0,290.6 939.7,291.5 942.2,257.6 943.9,243.4 945.5,230.3 947.1,218.1 948.8,208.5 950.5,221.4 952.2,228.9 954.7,253.8 957.2,231.0 959.7,221.8 961.1,215.7 962.5,215.1 963.9,209.7 965.3,210.4 966.7,211.4 968.1,215.6 969.8,221.6 971.4,225.3 972.8,228.1 974.2,230.2 975.6,230.0 977.2,236.1 978.9,244.4 981.4,263.0 983.9,279.5 985.6,270.5 987.3,265.6 989.0,257.5 990.6,250.9 992.3,246.9 994.0,249.2 995.6,252.2 997.3,254.4 998.9,256.6 1000.6,253.9 1002.3,252.5 1004.0,248.2 1005.7,235.4 1007.3,223.8 1009.0,208.2 1010.4,213.0 1011.8,214.1 1013.2,216.8 1014.9,208.8 1016.5,201.2 1018.0,196.0 1019.5,192.4 1021.1,193.3 1022.7,190.6 1024.1,192.9 1025.4,195.1 1026.8,196.2 1028.5,202.6 1030.3,209.4 1032.0,211.2 1033.8,220.3 1035.5,226.4 1037.3,231.3 1039.0,227.5 1040.7,223.8 1042.5,220.7 1044.2,215.3 1046.0,223.4 1047.7,229.3 1049.8,221.7 1051.2,225.0 1052.6,229.3 1054.0,232.5 1055.3,220.8 1056.7,208.6 1058.1,208.6 1059.5,211.3 1061.2,210.3 1063.0,208.2 1064.8,208.7 1066.5,207.1 1068.2,209.3 1070.0,213.7 1072.0,236.9 1073.4,239.6 1074.8,243.0 1076.2,250.2 1077.6,258.5 1079.0,264.5 1080.4,261.4 1081.8,251.4 1083.2,247.0 1084.6,228.2 1086.0,212.8 1087.3,205.5 1088.7,196.4 1090.8,198.8 1092.5,184.2 1094.3,167.2 1095.7,170.4 1097.1,172.9 1098.8,179.2 1100.6,186.6 1102.3,193.5 1104.0,201.1 1105.8,195.2 1107.5,187.0 1109.2,189.4 1111.0,192.8 1112.4,194.2 1113.8,191.7 1115.2,194.1 1116.6,196.4 1118.0,199.2 1119.7,200.0 1121.4,202.7 1123.2,211.3 1124.9,215.6 1126.3,230.2 1128.0,231.5 1129.8,223.2 1131.4,229.2 1133.1,234.6 1134.7,237.4 1136.4,241.9 1138.1,241.3 1139.7,245.1 1141.4,250.1 1143.0,253.1 1144.4,252.3 1145.8,254.1 1147.2,253.4 1148.6,252.7 1150.2,252.4 1151.7,253.6 1153.3,253.3 1155.0,254.6 1156.7,258.4 1159.2,270.7 1160.8,270.7 1162.5,271.9 1164.0,273.3 1165.4,278.3 1166.9,273.7 1168.4,271.9 1170.1,266.7 1171.7,264.6 1173.4,260.1 1175.1,253.8 1176.8,252.5 1178.4,254.1 1180.1,239.7 1181.7,232.4 1184.2,232.0 1185.9,222.6 1187.6,211.9 1189.2,211.0 1190.9,209.6 1193.0,213.0 1195.5,205.5 1197.6,204.7 1200.1,210.1 1201.8,209.2 1202.2,217.6 1202.4,259.3 1319.5,259.3" fill="none" stroke="#0000ff" stroke-width="4.7" stroke-linejoin="round" stroke-linecap="round" />
<line x1="869.00" y1="259.20" x2="1321.00" y2="259.20" stroke="#000" stroke-width="1.3" stroke-dasharray="20.2 13.16"/>
<line x1="1204.80" y1="108.00" x2="1204.80" y2="418.00" stroke="#00ffff" stroke-width="2.6" />
<line x1="868.50" y1="108.00" x2="868.50" y2="419.00" stroke="#0000ff" stroke-width="1" />
<line x1="1321.50" y1="108.00" x2="1321.50" y2="419.00" stroke="#262626" stroke-width="1" />
<line x1="868.00" y1="418.50" x2="1322.00" y2="418.50" stroke="#262626" stroke-width="1" />
<line x1="868.50" y1="418.00" x2="868.50" y2="413.50" stroke="#262626" stroke-width="1" />
<text transform="translate(862.39,447.70) scale(0.9949,1)" font-size="22.07" font-weight="normal" fill="#262626">0</text>
<line x1="924.50" y1="418.00" x2="924.50" y2="413.50" stroke="#262626" stroke-width="1" />
<text transform="translate(918.70,447.70) scale(0.9554,1)" font-size="22.07" font-weight="normal" fill="#262626">3</text>
<line x1="981.50" y1="418.00" x2="981.50" y2="413.50" stroke="#262626" stroke-width="1" />
<text transform="translate(975.10,447.70) scale(1.0296,1)" font-size="22.07" font-weight="normal" fill="#262626">6</text>
<line x1="1037.50" y1="418.00" x2="1037.50" y2="413.50" stroke="#262626" stroke-width="1" />
<text transform="translate(1031.20,447.70) scale(1.0276,1)" font-size="22.07" font-weight="normal" fill="#262626">9</text>
<line x1="1094.50" y1="418.00" x2="1094.50" y2="413.50" stroke="#262626" stroke-width="1" />
<text transform="translate(1081.72,447.70) scale(1.0171,1)" font-size="22.07" font-weight="normal" fill="#262626">12</text>
<line x1="1151.50" y1="418.00" x2="1151.50" y2="413.50" stroke="#262626" stroke-width="1" />
<text transform="translate(1138.59,447.70) scale(1.0207,1)" font-size="22.07" font-weight="normal" fill="#262626">15</text>
<line x1="1207.50" y1="418.00" x2="1207.50" y2="413.50" stroke="#262626" stroke-width="1" />
<text transform="translate(1194.35,447.70) scale(1.0403,1)" font-size="22.07" font-weight="normal" fill="#262626">18</text>
<line x1="1264.50" y1="418.00" x2="1264.50" y2="413.50" stroke="#262626" stroke-width="1" />
<text transform="translate(1251.83,447.70) scale(1.0311,1)" font-size="22.07" font-weight="normal" fill="#262626">21</text>
<line x1="1321.50" y1="418.00" x2="1321.50" y2="413.50" stroke="#262626" stroke-width="1" />
<text transform="translate(1308.44,447.70) scale(1.0446,1)" font-size="22.07" font-weight="normal" fill="#262626">24</text>
<line x1="869.00" y1="124.50" x2="873.50" y2="124.50" stroke="#0000ff" stroke-width="1" />
<text transform="translate(833.14,131.60) scale(1.0451,1)" font-size="22.07" font-weight="normal" fill="#0000ff">20</text>
<line x1="869.00" y1="191.50" x2="873.50" y2="191.50" stroke="#0000ff" stroke-width="1" />
<text transform="translate(833.32,199.20) scale(1.0376,1)" font-size="22.07" font-weight="normal" fill="#0000ff">10</text>
<line x1="869.00" y1="259.50" x2="873.50" y2="259.50" stroke="#0000ff" stroke-width="1" />
<text transform="translate(846.55,266.80) scale(0.9949,1)" font-size="22.07" font-weight="normal" fill="#0000ff">0</text>
<line x1="869.00" y1="326.50" x2="873.50" y2="326.50" stroke="#0000ff" stroke-width="1" />
<text transform="translate(825.25,334.40) scale(1.0520,1)" font-size="22.07" font-weight="normal" fill="#0000ff">-10</text>
<line x1="869.00" y1="394.50" x2="873.50" y2="394.50" stroke="#0000ff" stroke-width="1" />
<text transform="translate(825.25,402.00) scale(1.0520,1)" font-size="22.07" font-weight="normal" fill="#0000ff">-20</text>
<line x1="1321.00" y1="124.50" x2="1316.50" y2="124.50" stroke="#262626" stroke-width="1" />
<text transform="translate(1329.46,131.80) scale(0.9589,1)" font-size="22.07" font-weight="normal" fill="#262626">2</text>
<line x1="1321.00" y1="191.50" x2="1316.50" y2="191.50" stroke="#262626" stroke-width="1" />
<text transform="translate(1329.69,199.30) scale(0.9502,1)" font-size="22.07" font-weight="normal" fill="#262626">1</text>
<line x1="1321.00" y1="259.50" x2="1316.50" y2="259.50" stroke="#262626" stroke-width="1" />
<text transform="translate(1329.52,266.80) scale(0.9949,1)" font-size="22.07" font-weight="normal" fill="#262626">0</text>
<line x1="1321.00" y1="326.50" x2="1316.50" y2="326.50" stroke="#262626" stroke-width="1" />
<text transform="translate(1329.02,334.30) scale(1.0150,1)" font-size="22.07" font-weight="normal" fill="#262626">-1</text>
<line x1="1321.00" y1="394.50" x2="1316.50" y2="394.50" stroke="#262626" stroke-width="1" />
<text transform="translate(1329.03,401.80) scale(1.0076,1)" font-size="22.07" font-weight="normal" fill="#262626">-2</text>
<text transform="translate(1032.89,479.00) scale(1.0327,1)" font-size="24.26" font-weight="normal" fill="#262626">UT Time /h</text>
<text transform="translate(816.00,376.40) rotate(-90) scale(1.0469,1)" font-size="17.48" font-weight="normal" fill="#0000ff">X Mean Magnetic Field / nT</text>
<text transform="translate(1374.30,364.82) rotate(-90) scale(1.0537,1)" font-size="17.59" font-weight="normal" fill="#000">Rate of Change / nT/min</text>
<text transform="translate(1049.70,61.90) scale(1.0522,1)" font-size="26.70" font-weight="normal" fill="#000">Eyrewell</text>
<text transform="translate(867.36,99.80) scale(1.0471,1)" font-size="13.31" font-weight="normal" fill="#000">File Updated:27-Sep-2025 17:48:10 UTC</text>
<text transform="translate(1186.21,106.80) scale(1.0915,1)" font-size="15.47" font-weight="normal" fill="#000">minute resolution</text>
<rect x="1197.8" y="104.3" width="110.6" height="38.8" fill="#fff" stroke="#00ffff" stroke-width="1.2"/>
<text transform="translate(1205.14,130.70) scale(1.0817,1)" font-size="22.09" font-weight="normal" fill="#000">time now</text>
<rect x="1466.00" y="108.00" width="110.50" height="309.00" fill="#e5e5e5" />
<rect x="1822.00" y="108.00" width="91.00" height="309.00" fill="#e5e5e5" />
<polyline points="1465.0,248.2 1465.3,237.4 1465.6,236.6 1465.9,246.3 1466.3,242.3 1466.6,242.7 1466.9,269.1 1467.2,245.0 1467.5,244.5 1467.8,243.2 1468.1,237.5 1468.4,240.7 1468.8,242.0 1469.1,248.6 1469.4,232.9 1469.7,228.5 1470.0,232.0 1470.3,240.2 1470.6,244.0 1470.9,227.8 1471.3,222.1 1471.6,199.1 1471.9,232.0 1472.2,252.2 1472.5,245.0 1472.8,260.2 1473.1,262.7 1473.5,255.6 1473.8,236.1 1474.1,245.4 1474.4,238.5 1474.7,235.1 1475.0,225.0 1475.3,219.9 1475.6,225.7 1476.0,233.8 1476.3,226.6 1476.6,247.4 1476.9,251.4 1477.2,262.5 1477.5,248.7 1477.8,239.1 1478.1,243.7 1478.5,244.6 1478.8,238.3 1479.1,245.2 1479.4,250.5 1479.7,229.5 1480.0,220.2 1480.3,225.2 1480.7,246.8 1481.0,235.0 1481.3,225.6 1481.6,234.7 1481.9,238.2 1482.2,219.4 1482.5,237.4 1482.8,235.8 1483.2,215.3 1483.5,236.2 1483.8,233.6 1484.1,232.9 1484.4,233.5 1484.7,250.0 1485.0,231.6 1485.3,231.6 1485.7,229.5 1486.0,226.2 1486.3,238.0 1486.6,228.5 1486.9,229.6 1487.2,224.4 1487.5,241.9 1487.9,254.5 1488.2,245.0 1488.5,240.3 1488.8,246.0 1489.1,243.9 1489.4,241.2 1489.7,250.6 1490.0,248.7 1490.4,254.9 1490.7,247.8 1491.0,245.2 1491.3,246.2 1491.6,246.6 1491.9,238.3 1492.2,215.1 1492.5,223.6 1492.9,223.3 1493.2,229.3 1493.5,224.5 1493.8,242.4 1494.1,233.0 1494.4,232.7 1494.7,239.8 1495.0,241.3 1495.4,223.9 1495.7,230.0 1496.0,235.7 1496.3,250.6 1496.6,236.3 1496.9,245.3 1497.2,235.7 1497.6,222.8 1497.9,232.5 1498.2,229.9 1498.5,217.6 1498.8,223.8 1499.1,233.5 1499.4,239.5 1499.7,247.7 1500.1,229.8 1500.4,214.7 1500.7,210.5 1501.0,210.9 1501.3,228.4 1501.6,234.4 1501.9,240.3 1502.2,222.0 1502.6,227.8 1502.9,233.7 1503.2,226.5 1503.5,240.4 1503.8,238.3 1504.1,255.6 1504.4,236.1 1504.8,223.3 1505.1,220.2 1505.4,225.5 1505.7,228.4 1506.0,216.0 1506.3,224.9 1506.6,178.4 1506.9,198.7 1507.3,228.4 1507.6,239.0 1507.9,240.9 1508.2,230.1 1508.5,243.7 1508.8,230.9 1509.1,234.0 1509.4,233.6 1509.8,253.4 1510.1,227.4 1510.4,224.4 1510.7,231.2 1511.0,234.8 1511.3,229.5 1511.6,233.9 1512.0,244.2 1512.3,226.4 1512.6,236.2 1512.9,203.7 1513.2,204.9 1513.5,214.6 1513.8,212.9 1514.1,223.7 1514.5,245.0 1514.8,233.6 1515.1,248.6 1515.4,218.4 1515.7,221.1 1516.0,225.8 1516.3,224.1 1516.6,213.8 1517.0,248.7 1517.3,241.8 1517.6,240.8 1517.9,242.0 1518.2,230.1 1518.5,240.5 1518.8,236.2 1519.2,244.5 1519.5,252.4 1519.8,215.3 1520.1,238.0 1520.4,235.9 1520.7,235.8 1521.0,229.4 1521.3,244.5 1521.7,243.7 1522.0,236.5 1522.3,229.5 1522.6,234.0 1522.9,239.2 1523.2,228.9 1523.5,222.3 1523.8,225.4 1524.2,246.7 1524.5,253.5 1524.8,231.6 1525.1,235.7 1525.4,233.5 1525.7,213.6 1526.0,220.7 1526.4,221.7 1526.7,235.8 1527.0,232.6 1527.3,228.9 1527.6,233.8 1527.9,246.4 1528.2,238.0 1528.5,244.6 1528.9,231.3 1529.2,239.6 1529.5,225.3 1529.8,212.6 1530.1,221.1 1530.4,236.9 1530.7,235.1 1531.0,249.2 1531.4,215.6 1531.7,218.4 1532.0,231.4 1532.3,213.4 1532.6,214.7 1532.9,240.8 1533.2,244.3 1533.6,219.0 1533.9,220.4 1534.2,232.2 1534.5,230.0 1534.8,239.4 1535.1,234.5 1535.4,225.2 1535.7,234.4 1536.1,218.9 1536.4,235.8 1536.7,262.7 1537.0,235.2 1537.3,161.3 1537.6,243.4 1537.9,236.3 1538.2,236.3 1538.6,238.3 1538.9,241.9 1539.2,251.2 1539.5,225.2 1539.8,210.1 1540.1,248.8 1540.4,233.9 1540.7,224.6 1541.1,237.5 1541.4,200.6 1541.7,224.6 1542.0,238.1 1542.3,211.9 1542.6,253.4 1542.9,257.0 1543.3,281.0 1543.6,265.5 1543.9,282.1 1544.2,261.0 1544.5,273.8 1544.8,249.0 1545.1,244.4 1545.4,247.0 1545.8,244.9 1546.1,255.5 1546.4,256.3 1546.7,246.6 1547.0,237.7 1547.3,236.4 1547.6,236.4 1547.9,277.1 1548.3,262.0 1548.6,274.7 1548.9,260.3 1549.2,321.3 1549.5,268.3 1549.8,280.4 1550.1,249.8 1550.5,271.5 1550.8,254.9 1551.1,256.9 1551.4,266.7 1551.7,256.8 1552.0,242.4 1552.3,252.9 1552.6,246.0 1553.0,232.4 1553.3,258.8 1553.6,271.8 1553.9,247.3 1554.2,249.7 1554.5,253.3 1554.8,254.9 1555.1,231.7 1555.5,218.8 1555.8,257.6 1556.1,245.1 1556.4,244.4 1556.7,244.4 1557.0,224.7 1557.3,249.9 1557.7,248.6 1558.0,268.9 1558.3,233.2 1558.6,237.0 1558.9,248.4 1559.2,237.5 1559.5,249.4 1559.8,265.3 1560.2,272.3 1560.5,264.0 1560.8,239.5 1561.1,282.4 1561.4,234.5 1561.7,259.7 1562.0,249.2 1562.3,240.4 1562.7,231.3 1563.0,237.9 1563.3,265.5 1563.6,253.2 1563.9,258.2 1564.2,256.0 1564.5,276.0 1564.9,240.3 1565.2,259.9 1565.5,268.7 1565.8,252.4 1566.1,237.4 1566.4,226.3 1566.7,243.8 1567.0,245.5 1567.4,245.7 1567.7,250.8 1568.0,258.7 1568.3,264.8 1568.6,255.8 1568.9,264.6 1569.2,244.9 1569.5,246.0 1569.9,249.5 1570.2,255.7 1570.5,255.5 1570.8,250.0 1571.1,259.6 1571.4,234.3 1571.7,227.6 1572.1,245.8 1572.4,256.5 1572.7,273.2 1573.0,249.5 1573.3,320.3 1573.6,258.5 1573.9,257.6 1574.2,247.2 1574.6,241.6 1574.9,259.7 1575.2,254.1 1575.5,261.1 1575.8,236.5 1576.1,263.0 1576.4,244.9 1576.7,247.8 1577.1,252.6 1577.4,249.0 1577.7,270.9 1578.0,249.0 1578.3,238.0 1578.6,243.6 1578.9,239.3 1579.3,248.4 1579.6,273.1 1579.9,256.2 1580.2,245.4 1580.5,245.0 1580.8,250.7 1581.1,250.9 1581.4,259.2 1581.8,262.8 1582.1,241.7 1582.4,238.1 1582.7,248.2 1583.0,246.2 1583.3,249.1 1583.6,234.2 1583.9,235.8 1584.3,236.3 1584.6,239.9 1584.9,251.2 1585.2,272.5 1585.5,258.5 1585.8,266.7 1586.1,258.8 1586.4,255.4 1586.8,261.3 1587.1,255.9 1587.4,238.1 1587.7,222.8 1588.0,233.6 1588.3,210.4 1588.6,226.6 1589.0,261.4 1589.3,243.1 1589.6,246.8 1589.9,234.5 1590.2,236.9 1590.5,253.9 1590.8,258.8 1591.1,259.9 1591.5,248.6 1591.8,260.4 1592.1,264.5 1592.4,261.0 1592.7,251.4 1593.0,273.0 1593.3,276.8 1593.6,293.1 1594.0,275.5 1594.3,268.6 1594.6,256.5 1594.9,258.6 1595.2,241.8 1595.5,247.5 1595.8,251.6 1596.2,230.4 1596.5,246.5 1596.8,235.4 1597.1,242.6 1597.4,239.3 1597.7,244.8 1598.0,238.0 1598.3,228.1 1598.7,237.7 1599.0,242.2 1599.3,233.9 1599.6,225.2 1599.9,203.2 1600.2,229.2 1600.5,229.1 1600.8,237.0 1601.2,233.5 1601.5,233.2 1601.8,236.9 1602.1,234.8 1602.4,234.6 1602.7,235.1 1603.0,222.3 1603.4,225.5 1603.7,235.7 1604.0,220.3 1604.3,258.8 1604.6,260.8 1604.9,259.9 1605.2,252.3 1605.5,272.2 1605.9,256.6 1606.2,255.3 1606.5,248.7 1606.8,249.2 1607.1,235.4 1607.4,210.8 1607.7,236.9 1608.0,267.4 1608.4,259.6 1608.7,245.5 1609.0,237.4 1609.3,251.2 1609.6,248.7 1609.9,243.3 1610.2,251.9 1610.6,244.7 1610.9,250.9 1611.2,252.3 1611.5,262.5 1611.8,254.7 1612.1,250.3 1612.4,257.7 1612.7,241.0 1613.1,237.3 1613.4,250.0 1613.7,257.6 1614.0,247.2 1614.3,227.3 1614.6,236.5 1614.9,254.8 1615.2,242.9 1615.6,233.7 1615.9,246.3 1616.2,250.0 1616.5,238.2 1616.8,237.3 1617.1,252.4 1617.4,253.7 1617.8,252.0 1618.1,261.8 1618.4,271.4 1618.7,253.5 1619.0,254.2 1619.3,235.3 1619.6,253.1 1619.9,266.1 1620.3,256.2 1620.6,244.9 1620.9,231.1 1621.2,235.7 1621.5,237.9 1621.8,246.8 1622.1,243.8 1622.4,227.6 1622.8,230.3 1623.1,235.6 1623.4,241.2 1623.7,210.7 1624.0,248.7 1624.3,238.9 1624.6,240.0 1625.0,239.1 1625.3,241.6 1625.6,236.0 1625.9,253.3 1626.2,249.6 1626.5,249.0 1626.8,246.6 1627.1,242.5 1627.5,238.6 1627.8,237.4 1628.1,234.3 1628.4,233.5 1628.7,236.2 1629.0,237.9 1629.3,232.7 1629.6,245.8 1630.0,242.0 1630.3,242.7 1630.6,260.0 1630.9,243.2 1631.2,244.1 1631.5,235.3 1631.8,243.3 1632.2,245.6 1632.5,243.4 1632.8,233.7 1633.1,235.4 1633.4,229.4 1633.7,232.9 1634.0,247.9 1634.3,255.0 1634.7,248.8 1635.0,247.7 1635.3,238.9 1635.6,234.1 1635.9,237.8 1636.2,246.0 1636.5,240.8 1636.8,240.0 1637.2,237.2 1637.5,233.0 1637.8,232.5 1638.1,252.8 1638.4,256.4 1638.7,243.9 1639.0,255.6 1639.3,248.0 1639.7,252.0 1640.0,264.3 1640.3,253.6 1640.6,252.0 1640.9,261.9 1641.2,230.6 1641.5,231.0 1641.9,222.5 1642.2,215.4 1642.5,230.6 1642.8,235.4 1643.1,235.6 1643.4,235.2 1643.7,255.9 1644.0,213.4 1644.4,246.1 1644.7,254.7 1645.0,235.9 1645.3,255.9 1645.6,242.7 1645.9,240.4 1646.2,258.0 1646.5,242.5 1646.9,242.0 1647.2,247.6 1647.5,245.5 1647.8,264.2 1648.1,251.5 1648.4,254.7 1648.7,243.8 1649.1,238.9 1649.4,251.6 1649.7,259.9 1650.0,258.0 1650.3,244.4 1650.6,227.4 1650.9,235.1 1651.2,240.7 1651.6,243.8 1651.9,231.9 1652.2,232.0 1652.5,241.2 1652.8,258.9 1653.1,233.8 1653.4,237.8 1653.7,254.3 1654.1,242.2 1654.4,260.6 1654.7,246.4 1655.0,250.5 1655.3,259.2 1655.6,251.9 1655.9,258.9 1656.3,268.6 1656.6,277.0 1656.9,282.7 1657.2,297.0 1657.5,261.8 1657.8,256.0 1658.1,260.4 1658.4,267.2 1658.8,244.2 1659.1,245.9 1659.4,249.2 1659.7,248.6 1660.0,259.6 1660.3,254.7 1660.6,239.4 1660.9,240.3 1661.3,258.6 1661.6,245.2 1661.9,243.8 1662.2,269.7 1662.5,270.1 1662.8,261.7 1663.1,261.3 1663.5,270.9 1663.8,265.4 1664.1,267.7 1664.4,239.2 1664.7,265.8 1665.0,256.5 1665.3,254.7 1665.6,250.5 1666.0,304.3 1666.3,272.8 1666.6,257.3 1666.9,260.4 1667.2,270.3 1667.5,274.1 1667.8,255.5 1668.1,275.2 1668.5,273.2 1668.8,280.9 1669.1,253.6 1669.4,232.8 1669.7,230.2 1670.0,229.9 1670.3,243.5 1670.7,257.4 1671.0,249.4 1671.3,255.6 1671.6,264.7 1671.9,248.0 1672.2,266.6 1672.5,240.0 1672.8,249.1 1673.2,258.3 1673.5,259.5 1673.8,226.5 1674.1,233.2 1674.4,220.5 1674.7,212.6 1675.0,216.1 1675.3,215.7 1675.7,229.8 1676.0,295.3 1676.3,224.6 1676.6,246.4 1676.9,221.8 1677.2,231.2 1677.5,255.8 1677.9,260.6 1678.2,239.0 1678.5,241.8 1678.8,248.9 1679.1,236.9 1679.4,242.0 1679.7,272.3 1680.0,273.2 1680.4,249.7 1680.7,242.0 1681.0,244.4 1681.3,230.1 1681.6,148.3 1681.9,253.0 1682.2,249.0 1682.5,237.6 1682.9,240.5 1683.2,232.1 1683.5,252.3 1683.8,170.3 1684.1,223.7 1684.4,244.0 1684.7,241.3 1685.0,250.1 1685.4,234.4 1685.7,225.5 1686.0,230.0 1686.3,241.7 1686.6,230.1 1686.9,219.1 1687.2,241.8 1687.6,222.6 1687.9,236.6 1688.2,237.5 1688.5,235.0 1688.8,249.0 1689.1,251.0 1689.4,253.2 1689.7,245.9 1690.1,260.4 1690.4,261.7 1690.7,227.9 1691.0,236.9 1691.3,245.4 1691.6,245.9 1691.9,267.3 1692.2,239.1 1692.6,239.1 1692.9,255.8 1693.2,246.5 1693.5,256.4 1693.8,269.5 1694.1,258.5 1694.4,254.4 1694.8,243.7 1695.1,242.0 1695.4,257.4 1695.7,252.5 1696.0,252.2 1696.3,234.4 1696.6,246.0 1696.9,220.9 1697.3,234.4 1697.6,240.5 1697.9,246.3 1698.2,258.7 1698.5,253.0 1698.8,266.1 1699.1,263.0 1699.4,242.9 1699.8,215.3 1700.1,236.9 1700.4,234.8 1700.7,245.6 1701.0,241.7 1701.3,230.0 1701.6,242.8 1702.0,241.4 1702.3,252.4 1702.6,247.9 1702.9,253.8 1703.2,271.5 1703.5,252.6 1703.8,248.0 1704.1,254.6 1704.5,263.1 1704.8,250.7 1705.1,258.6 1705.4,258.0 1705.7,239.5 1706.0,249.2 1706.3,237.1 1706.6,239.7 1707.0,258.2 1707.3,256.0 1707.6,233.8 1707.9,251.6 1708.2,251.5 1708.5,251.9 1708.8,244.5 1709.2,220.1 1709.5,203.0 1709.8,232.7 1710.1,245.9 1710.4,249.3 1710.7,244.9 1711.0,240.1 1711.3,227.3 1711.7,230.0 1712.0,250.2 1712.3,249.0 1712.6,250.8 1712.9,250.5 1713.2,238.6 1713.5,252.2 1713.8,261.0 1714.2,247.3 1714.5,253.4 1714.8,240.3 1715.1,248.9 1715.4,258.7 1715.7,259.3 1716.0,243.5 1716.4,234.9 1716.7,233.9 1717.0,236.0 1717.3,231.3 1717.6,290.7 1717.9,257.7 1718.2,246.1 1718.5,237.4 1718.9,240.2 1719.2,241.1 1719.5,256.1 1719.8,260.4 1720.1,250.4 1720.4,243.0 1720.7,240.7 1721.0,232.9 1721.4,237.0 1721.7,236.0 1722.0,242.3 1722.3,247.0 1722.6,267.7 1722.9,257.4 1723.2,242.5 1723.6,234.9 1723.9,241.5 1724.2,245.8 1724.5,241.9 1724.8,240.0 1725.1,249.8 1725.4,253.0 1725.7,247.8 1726.1,244.5 1726.4,227.8 1726.7,252.4 1727.0,243.7 1727.3,248.8 1727.6,232.7 1727.9,233.3 1728.2,245.9 1728.6,247.6 1728.9,241.8 1729.2,246.2 1729.5,229.7 1729.8,244.2 1730.1,251.9 1730.4,241.2 1730.7,232.8 1731.1,242.6 1731.4,247.3 1731.7,250.8 1732.0,254.2 1732.3,260.1 1732.6,245.2 1732.9,235.5 1733.3,244.7 1733.6,249.3 1733.9,243.7 1734.2,252.1 1734.5,254.2 1734.8,245.4 1735.1,241.3 1735.4,248.2 1735.8,241.6 1736.1,236.7 1736.4,239.5 1736.7,240.4 1737.0,255.4 1737.3,252.6 1737.6,255.0 1737.9,258.6 1738.3,247.0 1738.6,245.4 1738.9,259.7 1739.2,257.2 1739.5,249.1 1739.8,220.3 1740.1,246.9 1740.5,246.0 1740.8,246.5 1741.1,245.6 1741.4,244.8 1741.7,251.4 1742.0,260.5 1742.3,249.7 1742.6,254.8 1743.0,244.2 1743.3,238.2 1743.6,240.6 1743.9,239.5 1744.2,242.2 1744.5,251.6 1744.8,243.0 1745.1,245.3 1745.5,247.6 1745.8,242.8 1746.1,243.3 1746.4,237.8 1746.7,243.3 1747.0,246.7 1747.3,251.8 1747.7,244.1 1748.0,245.2 1748.3,244.2 1748.6,237.4 1748.9,241.0 1749.2,239.5 1749.5,234.6 1749.8,233.9 1750.2,232.1 1750.5,238.4 1750.8,234.6 1751.1,248.4 1751.4,238.2 1751.7,229.5 1752.0,241.8 1752.3,242.0 1752.7,240.4 1753.0,237.1 1753.3,238.7 1753.6,247.7 1753.9,251.8 1754.2,240.6 1754.5,236.6 1754.9,236.4 1755.2,247.5 1755.5,241.4 1755.8,243.1 1756.1,238.8 1756.4,238.8 1756.7,237.3 1757.0,248.1 1757.4,250.6 1757.7,245.0 1758.0,247.0 1758.3,235.5 1758.6,236.8 1758.9,233.9 1759.2,237.3 1759.5,221.7 1759.9,229.1 1760.2,241.6 1760.5,243.0 1760.8,240.6 1761.1,232.9 1761.4,236.9 1761.7,235.3 1762.1,238.3 1762.4,232.9 1762.7,236.9 1763.0,246.7 1763.3,238.5 1763.6,247.8 1763.9,239.2 1764.2,234.4 1764.6,243.0 1764.9,234.5 1765.2,225.6 1765.5,240.3 1765.8,234.6 1766.1,231.7 1766.4,237.9 1766.7,232.9 1767.1,239.1 1767.4,232.5 1767.7,238.6 1768.0,228.0 1768.3,227.1 1768.6,238.2 1768.9,238.7 1769.3,227.5 1769.6,241.3 1769.9,229.9 1770.2,240.2 1770.5,249.2 1770.8,243.7 1771.1,240.6 1771.4,219.3 1771.8,229.1 1772.1,228.6 1772.4,231.2 1772.7,239.0 1773.0,242.8 1773.3,240.6 1773.6,246.9 1773.9,230.7 1774.3,235.3 1774.6,251.2 1774.9,225.9 1775.2,231.6 1775.5,239.7 1775.8,232.7 1776.1,233.6 1776.4,223.5 1776.8,233.0 1777.1,219.4 1777.4,223.5 1777.7,227.2 1778.0,224.3 1778.3,224.8 1778.6,219.4 1779.0,231.2 1779.3,235.7 1779.6,227.3 1779.9,232.1 1780.2,230.6 1780.5,230.5 1780.8,228.5 1781.1,226.6 1781.5,216.0 1781.8,233.9 1782.1,219.1 1782.4,222.2 1782.7,236.9 1783.0,232.5 1783.3,237.0 1783.6,243.1 1784.0,237.4 1784.3,217.6 1784.6,224.0 1784.9,233.2 1785.2,240.9 1785.5,235.9 1785.8,233.4 1786.2,213.3 1786.5,229.9 1786.8,230.0 1787.1,227.3 1787.4,217.4 1787.7,219.4 1788.0,236.3 1788.3,212.4 1788.7,232.3 1789.0,224.5 1789.3,227.3 1789.6,246.6 1789.9,220.3 1790.2,231.9 1790.5,227.0 1790.8,226.3 1791.2,224.1 1791.5,232.9 1791.8,234.3 1792.1,235.8 1792.4,230.6 1792.7,226.6 1793.0,234.1 1793.4,235.1 1793.7,216.6 1794.0,216.7 1794.3,235.7 1794.6,242.7 1794.9,221.8 1795.2,228.4 1795.5,236.8 1795.9,255.0 1796.2,249.6 1796.5,228.7 1796.8,204.3 1797.1,219.0 1797.4,228.4 1797.7,238.6 1798.0,238.0 1798.4,230.2 1798.7,227.0 1799.0,237.8 1799.3,225.5" fill="none" stroke="#1a1a1a" stroke-width="0.32" stroke-linejoin="miter"/>
<polyline points="1465.2,338.2 1467.0,348.8 1468.8,347.8 1470.7,352.1 1472.5,355.0 1474.3,359.6 1475.7,370.5 1477.0,376.4 1478.5,370.1 1480.0,365.1 1481.5,359.6 1483.3,361.7 1485.1,366.1 1486.9,369.5 1488.8,375.7 1490.6,372.0 1492.4,367.2 1493.8,371.9 1495.1,376.8 1496.9,371.8 1498.7,365.1 1500.5,364.0 1502.3,363.6 1504.2,360.9 1506.0,361.6 1507.3,359.3 1508.7,357.2 1510.1,352.4 1511.4,350.3 1512.9,340.9 1514.4,335.7 1515.9,326.2 1517.4,319.4 1518.9,314.9 1520.4,302.7 1522.2,287.6 1524.1,268.0 1525.6,274.4 1527.1,282.7 1528.6,290.0 1529.9,287.5 1531.3,282.7 1532.7,279.0 1534.0,275.8 1535.8,263.6 1537.6,253.0 1539.4,232.2 1541.3,214.7 1543.1,198.2 1544.9,186.5 1546.7,199.4 1548.5,210.6 1550.7,241.1 1552.4,224.6 1554.0,216.5 1555.7,205.3 1557.1,204.1 1558.5,195.3 1559.8,195.2 1561.2,188.7 1562.5,192.7 1563.9,195.2 1565.2,200.1 1566.6,200.9 1568.1,201.4 1569.6,201.1 1571.1,202.1 1572.6,201.7 1574.1,211.9 1575.6,216.3 1577.4,221.2 1579.3,229.0 1581.1,222.1 1582.9,219.0 1584.7,212.6 1586.5,207.5 1587.8,212.7 1589.2,217.9 1590.6,223.2 1591.9,227.5 1593.4,232.8 1595.0,229.2 1596.5,228.5 1598.0,224.0 1599.5,214.9 1601.0,206.5 1602.8,189.4 1604.6,173.2 1606.4,181.1 1608.2,189.2 1610.0,188.3 1612.5,178.4 1615.0,182.6 1616.9,167.3 1618.8,151.9 1620.3,160.3 1621.9,162.3 1623.8,170.6 1625.3,170.5 1626.9,173.0 1628.5,178.4 1630.0,185.0 1631.6,192.9 1633.2,202.0 1634.8,198.5 1636.3,190.8 1638.2,188.9 1640.1,191.1 1641.7,198.4 1643.2,207.5 1645.7,203.7 1647.2,207.8 1648.8,213.8 1650.7,206.4 1652.6,197.4 1655.1,209.8 1656.6,204.9 1658.0,197.5 1659.5,191.1 1661.0,188.3 1662.6,184.8 1664.2,192.0 1665.8,199.7 1667.6,224.1 1669.2,227.2 1670.8,228.2 1672.7,257.4 1674.5,283.6 1676.4,271.1 1678.3,258.6 1680.2,239.6 1682.1,219.1 1684.6,200.4 1686.0,192.0 1687.4,183.1 1688.8,175.9 1690.2,165.1 1691.8,172.0 1693.3,174.7 1695.2,183.9 1697.1,190.2 1698.6,192.8 1700.0,194.1 1701.5,198.0 1703.0,192.9 1704.6,188.5 1706.2,188.6 1707.7,188.0 1709.4,193.6 1711.1,198.5 1712.8,201.2 1714.7,201.5 1716.5,202.2 1718.0,210.0 1719.4,215.9 1720.9,220.3 1722.4,223.2 1723.8,223.3 1725.3,224.2 1727.0,228.1 1728.6,228.8 1730.3,228.1 1732.2,231.6 1734.1,234.7 1735.8,236.9 1737.4,241.4 1739.1,246.2 1740.8,244.2 1742.4,248.2 1744.1,250.0 1745.9,251.0 1747.8,249.9 1749.4,254.6 1750.9,255.6 1752.5,260.0 1754.2,266.8 1756.7,267.1 1758.1,268.6 1759.5,271.6 1760.9,276.3 1762.6,272.4 1764.2,272.5 1765.8,267.5 1767.5,261.4 1770.0,255.8 1772.5,255.3 1775.1,246.3 1777.6,231.7 1780.1,221.4 1782.6,217.2 1785.1,212.5 1786.7,204.7 1788.1,203.9 1789.5,200.4 1790.9,200.9 1793.4,205.4 1795.9,202.2 1797.6,208.8 1799.3,240.2 1800.1,245.1 1912.5,245.1" fill="none" stroke="#0000ff" stroke-width="4.7" stroke-linejoin="round" stroke-linecap="round" />
<line x1="1465.00" y1="245.30" x2="1914.00" y2="245.30" stroke="#000" stroke-width="1.3" stroke-dasharray="20.2 13.13"/>
<line x1="1799.30" y1="108.00" x2="1799.30" y2="418.00" stroke="#00ffff" stroke-width="2.6" />
<line x1="1464.50" y1="108.00" x2="1464.50" y2="419.00" stroke="#0000ff" stroke-width="1" />
<line x1="1914.50" y1="108.00" x2="1914.50" y2="419.00" stroke="#262626" stroke-width="1" />
<line x1="1464.00" y1="418.50" x2="1915.00" y2="418.50" stroke="#262626" stroke-width="1" />
<line x1="1464.50" y1="418.00" x2="1464.50" y2="413.50" stroke="#262626" stroke-width="1" />
<text transform="translate(1458.39,447.70) scale(0.9949,1)" font-size="22.07" font-weight="normal" fill="#262626">0</text>
<line x1="1520.50" y1="418.00" x2="1520.50" y2="413.50" stroke="#262626" stroke-width="1" />
<text transform="translate(1514.70,447.70) scale(0.9554,1)" font-size="22.07" font-weight="normal" fill="#262626">3</text>
<line x1="1576.50" y1="418.00" x2="1576.50" y2="413.50" stroke="#262626" stroke-width="1" />
<text transform="translate(1570.10,447.70) scale(1.0296,1)" font-size="22.07" font-weight="normal" fill="#262626">6</text>
<line x1="1632.50" y1="418.00" x2="1632.50" y2="413.50" stroke="#262626" stroke-width="1" />
<text transform="translate(1626.20,447.70) scale(1.0276,1)" font-size="22.07" font-weight="normal" fill="#262626">9</text>
<line x1="1689.50" y1="418.00" x2="1689.50" y2="413.50" stroke="#262626" stroke-width="1" />
<text transform="translate(1676.72,447.70) scale(1.0171,1)" font-size="22.07" font-weight="normal" fill="#262626">12</text>
<line x1="1745.50" y1="418.00" x2="1745.50" y2="413.50" stroke="#262626" stroke-width="1" />
<text transform="translate(1732.59,447.70) scale(1.0207,1)" font-size="22.07" font-weight="normal" fill="#262626">15</text>
<line x1="1801.50" y1="418.00" x2="1801.50" y2="413.50" stroke="#262626" stroke-width="1" />
<text transform="translate(1788.35,447.70) scale(1.0403,1)" font-size="22.07" font-weight="normal" fill="#262626">18</text>
<line x1="1857.50" y1="418.00" x2="1857.50" y2="413.50" stroke="#262626" stroke-width="1" />
<text transform="translate(1844.83,447.70) scale(1.0311,1)" font-size="22.07" font-weight="normal" fill="#262626">21</text>
<line x1="1914.50" y1="418.00" x2="1914.50" y2="413.50" stroke="#262626" stroke-width="1" />
<text transform="translate(1901.44,447.70) scale(1.0446,1)" font-size="22.07" font-weight="normal" fill="#262626">24</text>
<line x1="1465.00" y1="131.50" x2="1469.50" y2="131.50" stroke="#0000ff" stroke-width="1" />
<text transform="translate(1429.14,138.74) scale(1.0451,1)" font-size="22.07" font-weight="normal" fill="#0000ff">20</text>
<line x1="1465.00" y1="188.50" x2="1469.50" y2="188.50" stroke="#0000ff" stroke-width="1" />
<text transform="translate(1429.32,195.82) scale(1.0376,1)" font-size="22.07" font-weight="normal" fill="#0000ff">10</text>
<line x1="1465.00" y1="245.50" x2="1469.50" y2="245.50" stroke="#0000ff" stroke-width="1" />
<text transform="translate(1442.55,252.90) scale(0.9949,1)" font-size="22.07" font-weight="normal" fill="#0000ff">0</text>
<line x1="1465.00" y1="302.50" x2="1469.50" y2="302.50" stroke="#0000ff" stroke-width="1" />
<text transform="translate(1421.25,309.98) scale(1.0520,1)" font-size="22.07" font-weight="normal" fill="#0000ff">-10</text>
<line x1="1465.00" y1="359.50" x2="1469.50" y2="359.50" stroke="#0000ff" stroke-width="1" />
<text transform="translate(1421.25,367.06) scale(1.0520,1)" font-size="22.07" font-weight="normal" fill="#0000ff">-20</text>
<line x1="1465.00" y1="416.50" x2="1469.50" y2="416.50" stroke="#0000ff" stroke-width="1" />
<text transform="translate(1421.25,424.14) scale(1.0520,1)" font-size="22.07" font-weight="normal" fill="#0000ff">-30</text>
<line x1="1914.00" y1="131.50" x2="1909.50" y2="131.50" stroke="#262626" stroke-width="1" />
<text transform="translate(1922.46,138.70) scale(0.9589,1)" font-size="22.07" font-weight="normal" fill="#262626">2</text>
<line x1="1914.00" y1="188.50" x2="1909.50" y2="188.50" stroke="#262626" stroke-width="1" />
<text transform="translate(1922.69,195.80) scale(0.9502,1)" font-size="22.07" font-weight="normal" fill="#262626">1</text>
<line x1="1914.00" y1="245.50" x2="1909.50" y2="245.50" stroke="#262626" stroke-width="1" />
<text transform="translate(1922.52,252.90) scale(0.9949,1)" font-size="22.07" font-weight="normal" fill="#262626">0</text>
<line x1="1914.00" y1="302.50" x2="1909.50" y2="302.50" stroke="#262626" stroke-width="1" />
<text transform="translate(1922.02,310.00) scale(1.0150,1)" font-size="22.07" font-weight="normal" fill="#262626">-1</text>
<line x1="1914.00" y1="359.50" x2="1909.50" y2="359.50" stroke="#262626" stroke-width="1" />
<text transform="translate(1922.03,367.10) scale(1.0076,1)" font-size="22.07" font-weight="normal" fill="#262626">-2</text>
<line x1="1914.00" y1="416.50" x2="1909.50" y2="416.50" stroke="#262626" stroke-width="1" />
<text transform="translate(1922.01,424.20) scale(1.0232,1)" font-size="22.07" font-weight="normal" fill="#262626">-3</text>
<text transform="translate(1627.39,479.00) scale(1.0327,1)" font-size="24.26" font-weight="normal" fill="#262626">UT Time /h</text>
<text transform="translate(1412.00,376.40) rotate(-90) scale(1.0469,1)" font-size="17.48" font-weight="normal" fill="#0000ff">X Mean Magnetic Field / nT</text>
<text transform="translate(1967.50,364.82) rotate(-90) scale(1.0537,1)" font-size="17.59" font-weight="normal" fill="#000">Rate of Change / nT/min</text>
<text transform="translate(1644.58,61.90) scale(1.0593,1)" font-size="26.70" font-weight="normal" fill="#000">Dunedin</text>
<text transform="translate(1463.36,99.80) scale(1.0471,1)" font-size="13.31" font-weight="normal" fill="#000">File Updated:27-Sep-2025 17:49:02 UTC</text>
<text transform="translate(1779.21,106.80) scale(1.0915,1)" font-size="15.47" font-weight="normal" fill="#000">minute resolution</text>
<rect x="1792.3" y="104.3" width="110.6" height="38.8" fill="#fff" stroke="#00ffff" stroke-width="1.2"/>
<text transform="translate(1799.64,130.70) scale(1.0817,1)" font-size="22.09" font-weight="normal" fill="#000">time now</text>
<rect x="277.00" y="537.00" width="111.00" height="309.00" fill="#e5e5e5" />
<rect x="633.30" y="537.00" width="93.70" height="309.00" fill="#e5e5e5" />
<line x1="276.00" y1="692.50" x2="727.00" y2="692.50" stroke="#000" stroke-width="1.2" />
<line x1="611.00" y1="537.00" x2="611.00" y2="847.00" stroke="#00ffff" stroke-width="2.6" />
<line x1="275.50" y1="537.00" x2="275.50" y2="848.00" stroke="#262626" stroke-width="1" />
<line x1="275.00" y1="847.50" x2="728.00" y2="847.50" stroke="#262626" stroke-width="1" />
<line x1="276.00" y1="537.50" x2="280.50" y2="537.50" stroke="#262626" stroke-width="1" />
<line x1="276.00" y1="614.50" x2="280.50" y2="614.50" stroke="#262626" stroke-width="1" />
<line x1="276.00" y1="692.50" x2="280.50" y2="692.50" stroke="#262626" stroke-width="1" />
<line x1="276.00" y1="770.50" x2="280.50" y2="770.50" stroke="#262626" stroke-width="1" />
<line x1="275.50" y1="847.00" x2="275.50" y2="842.50" stroke="#262626" stroke-width="1" />
<text transform="translate(269.39,876.50) scale(0.9949,1)" font-size="22.07" font-weight="normal" fill="#262626">0</text>
<line x1="293.50" y1="847.00" x2="293.50" y2="842.50" stroke="#262626" stroke-width="1" />
<line x1="312.50" y1="847.00" x2="312.50" y2="842.50" stroke="#262626" stroke-width="1" />
<line x1="331.50" y1="847.00" x2="331.50" y2="842.50" stroke="#262626" stroke-width="1" />
<text transform="translate(325.70,876.50) scale(0.9554,1)" font-size="22.07" font-weight="normal" fill="#262626">3</text>
<line x1="350.50" y1="847.00" x2="350.50" y2="842.50" stroke="#262626" stroke-width="1" />
<line x1="369.50" y1="847.00" x2="369.50" y2="842.50" stroke="#262626" stroke-width="1" />
<line x1="388.50" y1="847.00" x2="388.50" y2="842.50" stroke="#262626" stroke-width="1" />
<text transform="translate(382.10,876.50) scale(1.0296,1)" font-size="22.07" font-weight="normal" fill="#262626">6</text>
<line x1="406.50" y1="847.00" x2="406.50" y2="842.50" stroke="#262626" stroke-width="1" />
<line x1="425.50" y1="847.00" x2="425.50" y2="842.50" stroke="#262626" stroke-width="1" />
<line x1="444.50" y1="847.00" x2="444.50" y2="842.50" stroke="#262626" stroke-width="1" />
<text transform="translate(438.20,876.50) scale(1.0276,1)" font-size="22.07" font-weight="normal" fill="#262626">9</text>
<line x1="463.50" y1="847.00" x2="463.50" y2="842.50" stroke="#262626" stroke-width="1" />
<line x1="482.50" y1="847.00" x2="482.50" y2="842.50" stroke="#262626" stroke-width="1" />
<line x1="501.50" y1="847.00" x2="501.50" y2="842.50" stroke="#262626" stroke-width="1" />
<text transform="translate(488.72,876.50) scale(1.0171,1)" font-size="22.07" font-weight="normal" fill="#262626">12</text>
<line x1="519.50" y1="847.00" x2="519.50" y2="842.50" stroke="#262626" stroke-width="1" />
<line x1="538.50" y1="847.00" x2="538.50" y2="842.50" stroke="#262626" stroke-width="1" />
<line x1="557.50" y1="847.00" x2="557.50" y2="842.50" stroke="#262626" stroke-width="1" />
<text transform="translate(544.59,876.50) scale(1.0207,1)" font-size="22.07" font-weight="normal" fill="#262626">15</text>
<line x1="576.50" y1="847.00" x2="576.50" y2="842.50" stroke="#262626" stroke-width="1" />
<line x1="595.50" y1="847.00" x2="595.50" y2="842.50" stroke="#262626" stroke-width="1" />
<line x1="614.50" y1="847.00" x2="614.50" y2="842.50" stroke="#262626" stroke-width="1" />
<text transform="translate(601.35,876.50) scale(1.0403,1)" font-size="22.07" font-weight="normal" fill="#262626">18</text>
<line x1="632.50" y1="847.00" x2="632.50" y2="842.50" stroke="#262626" stroke-width="1" />
<line x1="651.50" y1="847.00" x2="651.50" y2="842.50" stroke="#262626" stroke-width="1" />
<line x1="670.50" y1="847.00" x2="670.50" y2="842.50" stroke="#262626" stroke-width="1" />
<text transform="translate(657.83,876.50) scale(1.0311,1)" font-size="22.07" font-weight="normal" fill="#262626">21</text>
<line x1="689.50" y1="847.00" x2="689.50" y2="842.50" stroke="#262626" stroke-width="1" />
<line x1="708.50" y1="847.00" x2="708.50" y2="842.50" stroke="#262626" stroke-width="1" />
<line x1="727.50" y1="847.00" x2="727.50" y2="842.50" stroke="#262626" stroke-width="1" />
<text transform="translate(714.44,876.50) scale(1.0446,1)" font-size="22.07" font-weight="normal" fill="#262626">24</text>
<rect x="604.5" y="533.2" width="110.6" height="39" fill="#fff" stroke="#00ffff" stroke-width="1.2"/>
<text transform="translate(611.84,559.70) scale(1.0817,1)" font-size="22.09" font-weight="normal" fill="#000">time now</text>
<text transform="translate(736.10,605.70) scale(1.1122,1)" font-size="17.59" font-weight="bold" fill="#000">dB/dT Alert</text>
<text transform="translate(735.59,760.80) scale(1.1097,1)" font-size="17.59" font-weight="bold" fill="#0000ff">B Alert</text>
<rect x="870.00" y="537.00" width="111.25" height="309.00" fill="#e5e5e5" />
<rect x="1227.50" y="537.00" width="93.50" height="309.00" fill="#e5e5e5" />
<line x1="869.00" y1="692.50" x2="1321.00" y2="692.50" stroke="#000" stroke-width="1.2" />
<line x1="1204.80" y1="537.00" x2="1204.80" y2="847.00" stroke="#00ffff" stroke-width="2.6" />
<line x1="868.50" y1="537.00" x2="868.50" y2="848.00" stroke="#262626" stroke-width="1" />
<line x1="868.00" y1="847.50" x2="1322.00" y2="847.50" stroke="#262626" stroke-width="1" />
<line x1="869.00" y1="537.50" x2="873.50" y2="537.50" stroke="#262626" stroke-width="1" />
<line x1="869.00" y1="614.50" x2="873.50" y2="614.50" stroke="#262626" stroke-width="1" />
<line x1="869.00" y1="692.50" x2="873.50" y2="692.50" stroke="#262626" stroke-width="1" />
<line x1="869.00" y1="770.50" x2="873.50" y2="770.50" stroke="#262626" stroke-width="1" />
<line x1="868.50" y1="847.00" x2="868.50" y2="842.50" stroke="#262626" stroke-width="1" />
<text transform="translate(862.39,876.50) scale(0.9949,1)" font-size="22.07" font-weight="normal" fill="#262626">0</text>
<line x1="886.50" y1="847.00" x2="886.50" y2="842.50" stroke="#262626" stroke-width="1" />
<line x1="905.50" y1="847.00" x2="905.50" y2="842.50" stroke="#262626" stroke-width="1" />
<line x1="924.50" y1="847.00" x2="924.50" y2="842.50" stroke="#262626" stroke-width="1" />
<text transform="translate(918.70,876.50) scale(0.9554,1)" font-size="22.07" font-weight="normal" fill="#262626">3</text>
<line x1="943.50" y1="847.00" x2="943.50" y2="842.50" stroke="#262626" stroke-width="1" />
<line x1="962.50" y1="847.00" x2="962.50" y2="842.50" stroke="#262626" stroke-width="1" />
<line x1="981.50" y1="847.00" x2="981.50" y2="842.50" stroke="#262626" stroke-width="1" />
<text transform="translate(975.10,876.50) scale(1.0296,1)" font-size="22.07" font-weight="normal" fill="#262626">6</text>
<line x1="1000.50" y1="847.00" x2="1000.50" y2="842.50" stroke="#262626" stroke-width="1" />
<line x1="1019.50" y1="847.00" x2="1019.50" y2="842.50" stroke="#262626" stroke-width="1" />
<line x1="1037.50" y1="847.00" x2="1037.50" y2="842.50" stroke="#262626" stroke-width="1" />
<text transform="translate(1031.20,876.50) scale(1.0276,1)" font-size="22.07" font-weight="normal" fill="#262626">9</text>
<line x1="1056.50" y1="847.00" x2="1056.50" y2="842.50" stroke="#262626" stroke-width="1" />
<line x1="1075.50" y1="847.00" x2="1075.50" y2="842.50" stroke="#262626" stroke-width="1" />
<line x1="1094.50" y1="847.00" x2="1094.50" y2="842.50" stroke="#262626" stroke-width="1" />
<text transform="translate(1081.72,876.50) scale(1.0171,1)" font-size="22.07" font-weight="normal" fill="#262626">12</text>
<line x1="1113.50" y1="847.00" x2="1113.50" y2="842.50" stroke="#262626" stroke-width="1" />
<line x1="1132.50" y1="847.00" x2="1132.50" y2="842.50" stroke="#262626" stroke-width="1" />
<line x1="1151.50" y1="847.00" x2="1151.50" y2="842.50" stroke="#262626" stroke-width="1" />
<text transform="translate(1138.59,876.50) scale(1.0207,1)" font-size="22.07" font-weight="normal" fill="#262626">15</text>
<line x1="1170.50" y1="847.00" x2="1170.50" y2="842.50" stroke="#262626" stroke-width="1" />
<line x1="1188.50" y1="847.00" x2="1188.50" y2="842.50" stroke="#262626" stroke-width="1" />
<line x1="1207.50" y1="847.00" x2="1207.50" y2="842.50" stroke="#262626" stroke-width="1" />
<text transform="translate(1194.35,876.50) scale(1.0403,1)" font-size="22.07" font-weight="normal" fill="#262626">18</text>
<line x1="1226.50" y1="847.00" x2="1226.50" y2="842.50" stroke="#262626" stroke-width="1" />
<line x1="1245.50" y1="847.00" x2="1245.50" y2="842.50" stroke="#262626" stroke-width="1" />
<line x1="1264.50" y1="847.00" x2="1264.50" y2="842.50" stroke="#262626" stroke-width="1" />
<text transform="translate(1251.83,876.50) scale(1.0311,1)" font-size="22.07" font-weight="normal" fill="#262626">21</text>
<line x1="1283.50" y1="847.00" x2="1283.50" y2="842.50" stroke="#262626" stroke-width="1" />
<line x1="1302.50" y1="847.00" x2="1302.50" y2="842.50" stroke="#262626" stroke-width="1" />
<line x1="1321.50" y1="847.00" x2="1321.50" y2="842.50" stroke="#262626" stroke-width="1" />
<text transform="translate(1308.44,876.50) scale(1.0446,1)" font-size="22.07" font-weight="normal" fill="#262626">24</text>
<rect x="1198.3" y="533.2" width="110.6" height="39" fill="#fff" stroke="#00ffff" stroke-width="1.2"/>
<text transform="translate(1205.64,559.70) scale(1.0817,1)" font-size="22.09" font-weight="normal" fill="#000">time now</text>
<text transform="translate(1330.20,605.70) scale(1.1122,1)" font-size="17.59" font-weight="bold" fill="#000">dB/dT Alert</text>
<text transform="translate(1329.69,760.80) scale(1.1097,1)" font-size="17.59" font-weight="bold" fill="#0000ff">B Alert</text>
<rect x="1466.00" y="537.00" width="110.50" height="309.00" fill="#e5e5e5" />
<rect x="1822.00" y="537.00" width="92.00" height="309.00" fill="#e5e5e5" />
<line x1="1465.00" y1="692.50" x2="1914.00" y2="692.50" stroke="#000" stroke-width="1.2" />
<line x1="1799.30" y1="537.00" x2="1799.30" y2="847.00" stroke="#00ffff" stroke-width="2.6" />
<line x1="1464.50" y1="537.00" x2="1464.50" y2="848.00" stroke="#262626" stroke-width="1" />
<line x1="1464.00" y1="847.50" x2="1915.00" y2="847.50" stroke="#262626" stroke-width="1" />
<line x1="1465.00" y1="537.50" x2="1469.50" y2="537.50" stroke="#262626" stroke-width="1" />
<line x1="1465.00" y1="614.50" x2="1469.50" y2="614.50" stroke="#262626" stroke-width="1" />
<line x1="1465.00" y1="692.50" x2="1469.50" y2="692.50" stroke="#262626" stroke-width="1" />
<line x1="1465.00" y1="770.50" x2="1469.50" y2="770.50" stroke="#262626" stroke-width="1" />
<line x1="1464.50" y1="847.00" x2="1464.50" y2="842.50" stroke="#262626" stroke-width="1" />
<text transform="translate(1458.39,876.50) scale(0.9949,1)" font-size="22.07" font-weight="normal" fill="#262626">0</text>
<line x1="1482.50" y1="847.00" x2="1482.50" y2="842.50" stroke="#262626" stroke-width="1" />
<line x1="1501.50" y1="847.00" x2="1501.50" y2="842.50" stroke="#262626" stroke-width="1" />
<line x1="1520.50" y1="847.00" x2="1520.50" y2="842.50" stroke="#262626" stroke-width="1" />
<text transform="translate(1514.70,876.50) scale(0.9554,1)" font-size="22.07" font-weight="normal" fill="#262626">3</text>
<line x1="1539.50" y1="847.00" x2="1539.50" y2="842.50" stroke="#262626" stroke-width="1" />
<line x1="1557.50" y1="847.00" x2="1557.50" y2="842.50" stroke="#262626" stroke-width="1" />
<line x1="1576.50" y1="847.00" x2="1576.50" y2="842.50" stroke="#262626" stroke-width="1" />
<text transform="translate(1570.10,876.50) scale(1.0296,1)" font-size="22.07" font-weight="normal" fill="#262626">6</text>
<line x1="1595.50" y1="847.00" x2="1595.50" y2="842.50" stroke="#262626" stroke-width="1" />
<line x1="1614.50" y1="847.00" x2="1614.50" y2="842.50" stroke="#262626" stroke-width="1" />
<line x1="1632.50" y1="847.00" x2="1632.50" y2="842.50" stroke="#262626" stroke-width="1" />
<text transform="translate(1626.20,876.50) scale(1.0276,1)" font-size="22.07" font-weight="normal" fill="#262626">9</text>
<line x1="1651.50" y1="847.00" x2="1651.50" y2="842.50" stroke="#262626" stroke-width="1" />
<line x1="1670.50" y1="847.00" x2="1670.50" y2="842.50" stroke="#262626" stroke-width="1" />
<line x1="1689.50" y1="847.00" x2="1689.50" y2="842.50" stroke="#262626" stroke-width="1" />
<text transform="translate(1676.72,876.50) scale(1.0171,1)" font-size="22.07" font-weight="normal" fill="#262626">12</text>
<line x1="1707.50" y1="847.00" x2="1707.50" y2="842.50" stroke="#262626" stroke-width="1" />
<line x1="1726.50" y1="847.00" x2="1726.50" y2="842.50" stroke="#262626" stroke-width="1" />
<line x1="1745.50" y1="847.00" x2="1745.50" y2="842.50" stroke="#262626" stroke-width="1" />
<text transform="translate(1732.59,876.50) scale(1.0207,1)" font-size="22.07" font-weight="normal" fill="#262626">15</text>
<line x1="1764.50" y1="847.00" x2="1764.50" y2="842.50" stroke="#262626" stroke-width="1" />
<line x1="1782.50" y1="847.00" x2="1782.50" y2="842.50" stroke="#262626" stroke-width="1" />
<line x1="1801.50" y1="847.00" x2="1801.50" y2="842.50" stroke="#262626" stroke-width="1" />
<text transform="translate(1788.35,876.50) scale(1.0403,1)" font-size="22.07" font-weight="normal" fill="#262626">18</text>
<line x1="1820.50" y1="847.00" x2="1820.50" y2="842.50" stroke="#262626" stroke-width="1" />
<line x1="1839.50" y1="847.00" x2="1839.50" y2="842.50" stroke="#262626" stroke-width="1" />
<line x1="1857.50" y1="847.00" x2="1857.50" y2="842.50" stroke="#262626" stroke-width="1" />
<text transform="translate(1844.83,876.50) scale(1.0311,1)" font-size="22.07" font-weight="normal" fill="#262626">21</text>
<line x1="1876.50" y1="847.00" x2="1876.50" y2="842.50" stroke="#262626" stroke-width="1" />
<line x1="1895.50" y1="847.00" x2="1895.50" y2="842.50" stroke="#262626" stroke-width="1" />
<line x1="1914.50" y1="847.00" x2="1914.50" y2="842.50" stroke="#262626" stroke-width="1" />
<text transform="translate(1901.44,876.50) scale(1.0446,1)" font-size="22.07" font-weight="normal" fill="#262626">24</text>
<rect x="1792.8" y="533.2" width="110.6" height="39" fill="#fff" stroke="#00ffff" stroke-width="1.2"/>
<text transform="translate(1800.14,559.70) scale(1.0817,1)" font-size="22.09" font-weight="normal" fill="#000">time now</text>
<rect x="268.20" y="882.00" width="159.30" height="40.20" fill="#00ff00" />
<rect x="432.20" y="882.00" width="196.80" height="40.20" fill="#ffff00" />
<rect x="629.00" y="882.00" width="165.60" height="40.20" fill="#ff0000" />
<text transform="translate(274.57,909.00) scale(1.1117,1)" font-size="22.07" font-weight="normal" fill="#000">minor activity</text>
<text transform="translate(438.58,909.00) scale(1.1025,1)" font-size="22.07" font-weight="normal" fill="#000">moderate activity</text>
<text transform="translate(636.02,909.00) scale(1.1053,1)" font-size="22.07" font-weight="normal" fill="#000">strong activity</text>
<text transform="translate(1258.40,908.50) scale(1.0699,1)" font-size="22.07" font-weight="normal" fill="#000">Current Warning:</text>
<text transform="translate(1456.22,911.40) scale(1.0716,1)" font-size="33.06" font-weight="normal" fill="#000">0.0/9</text>
<rect x="277.00" y="935.00" width="407.75" height="330.00" fill="#e5e5e5" />
<rect x="1573.50" y="935.00" width="340.50" height="330.00" fill="#e5e5e5" />
<line x1="1493.60" y1="935.00" x2="1493.60" y2="1266.00" stroke="#00ffff" stroke-width="2.6" />
<line x1="275.50" y1="935.00" x2="275.50" y2="1267.00" stroke="#262626" stroke-width="1" />
<line x1="275.00" y1="1266.50" x2="1915.00" y2="1266.50" stroke="#262626" stroke-width="1" />
<text transform="translate(252.45,1274.10) scale(0.9949,1)" font-size="22.07" font-weight="normal" fill="#262626">0</text>
<line x1="276.00" y1="1192.50" x2="292.00" y2="1192.50" stroke="#262626" stroke-width="1" />
<text transform="translate(253.09,1200.54) scale(0.9589,1)" font-size="22.07" font-weight="normal" fill="#262626">2</text>
<line x1="276.00" y1="1119.50" x2="292.00" y2="1119.50" stroke="#262626" stroke-width="1" />
<text transform="translate(252.23,1126.99) scale(0.9950,1)" font-size="22.07" font-weight="normal" fill="#262626">4</text>
<line x1="276.00" y1="1045.50" x2="292.00" y2="1045.50" stroke="#262626" stroke-width="1" />
<text transform="translate(252.16,1053.43) scale(1.0296,1)" font-size="22.07" font-weight="normal" fill="#262626">6</text>
<line x1="276.00" y1="972.50" x2="292.00" y2="972.50" stroke="#262626" stroke-width="1" />
<text transform="translate(252.42,979.88) scale(1.0056,1)" font-size="22.07" font-weight="normal" fill="#262626">8</text>
<line x1="275.50" y1="1266.00" x2="275.50" y2="1249.60" stroke="#262626" stroke-width="1" />
<text transform="translate(269.39,1294.50) scale(0.9949,1)" font-size="22.07" font-weight="normal" fill="#262626">0</text>
<line x1="343.50" y1="1266.00" x2="343.50" y2="1249.60" stroke="#262626" stroke-width="1" />
<text transform="translate(337.38,1294.50) scale(0.9502,1)" font-size="22.07" font-weight="normal" fill="#262626">1</text>
<line x1="411.50" y1="1266.00" x2="411.50" y2="1249.60" stroke="#262626" stroke-width="1" />
<text transform="translate(405.61,1294.50) scale(0.9589,1)" font-size="22.07" font-weight="normal" fill="#262626">2</text>
<line x1="479.50" y1="1266.00" x2="479.50" y2="1249.60" stroke="#262626" stroke-width="1" />
<text transform="translate(473.70,1294.50) scale(0.9554,1)" font-size="22.07" font-weight="normal" fill="#262626">3</text>
<line x1="548.50" y1="1266.00" x2="548.50" y2="1249.60" stroke="#262626" stroke-width="1" />
<text transform="translate(542.46,1294.50) scale(0.9950,1)" font-size="22.07" font-weight="normal" fill="#262626">4</text>
<line x1="616.50" y1="1266.00" x2="616.50" y2="1249.60" stroke="#262626" stroke-width="1" />
<text transform="translate(610.76,1294.50) scale(0.9389,1)" font-size="22.07" font-weight="normal" fill="#262626">5</text>
<line x1="684.50" y1="1266.00" x2="684.50" y2="1249.60" stroke="#262626" stroke-width="1" />
<text transform="translate(678.10,1294.50) scale(1.0296,1)" font-size="22.07" font-weight="normal" fill="#262626">6</text>
<line x1="753.50" y1="1266.00" x2="753.50" y2="1249.60" stroke="#262626" stroke-width="1" />
<text transform="translate(747.52,1294.50) scale(0.9732,1)" font-size="22.07" font-weight="normal" fill="#262626">7</text>
<line x1="821.50" y1="1266.00" x2="821.50" y2="1249.60" stroke="#262626" stroke-width="1" />
<text transform="translate(815.33,1294.50) scale(1.0056,1)" font-size="22.07" font-weight="normal" fill="#262626">8</text>
<line x1="889.50" y1="1266.00" x2="889.50" y2="1249.60" stroke="#262626" stroke-width="1" />
<text transform="translate(883.20,1294.50) scale(1.0276,1)" font-size="22.07" font-weight="normal" fill="#262626">9</text>
<line x1="957.50" y1="1266.00" x2="957.50" y2="1249.60" stroke="#262626" stroke-width="1" />
<text transform="translate(944.34,1294.50) scale(1.0376,1)" font-size="22.07" font-weight="normal" fill="#262626">10</text>
<line x1="1026.50" y1="1266.00" x2="1026.50" y2="1249.60" stroke="#262626" stroke-width="1" />
<text transform="translate(1013.63,1294.50) scale(1.0231,1)" font-size="22.07" font-weight="normal" fill="#262626">11</text>
<line x1="1094.50" y1="1266.00" x2="1094.50" y2="1249.60" stroke="#262626" stroke-width="1" />
<text transform="translate(1081.72,1294.50) scale(1.0171,1)" font-size="22.07" font-weight="normal" fill="#262626">12</text>
<line x1="1162.50" y1="1266.00" x2="1162.50" y2="1249.60" stroke="#262626" stroke-width="1" />
<text transform="translate(1149.49,1294.50) scale(1.0297,1)" font-size="22.07" font-weight="normal" fill="#262626">13</text>
<line x1="1231.50" y1="1266.00" x2="1231.50" y2="1249.60" stroke="#262626" stroke-width="1" />
<text transform="translate(1218.23,1294.50) scale(1.0371,1)" font-size="22.07" font-weight="normal" fill="#262626">14</text>
<line x1="1299.50" y1="1266.00" x2="1299.50" y2="1249.60" stroke="#262626" stroke-width="1" />
<text transform="translate(1286.59,1294.50) scale(1.0207,1)" font-size="22.07" font-weight="normal" fill="#262626">15</text>
<line x1="1367.50" y1="1266.00" x2="1367.50" y2="1249.60" stroke="#262626" stroke-width="1" />
<text transform="translate(1354.29,1294.50) scale(1.0459,1)" font-size="22.07" font-weight="normal" fill="#262626">16</text>
<line x1="1435.50" y1="1266.00" x2="1435.50" y2="1249.60" stroke="#262626" stroke-width="1" />
<text transform="translate(1422.55,1294.50) scale(1.0312,1)" font-size="22.07" font-weight="normal" fill="#262626">17</text>
<line x1="1504.50" y1="1266.00" x2="1504.50" y2="1249.60" stroke="#262626" stroke-width="1" />
<text transform="translate(1491.35,1294.50) scale(1.0403,1)" font-size="22.07" font-weight="normal" fill="#262626">18</text>
<line x1="1572.50" y1="1266.00" x2="1572.50" y2="1249.60" stroke="#262626" stroke-width="1" />
<text transform="translate(1559.37,1294.50) scale(1.0426,1)" font-size="22.07" font-weight="normal" fill="#262626">19</text>
<line x1="1640.50" y1="1266.00" x2="1640.50" y2="1249.60" stroke="#262626" stroke-width="1" />
<text transform="translate(1627.54,1294.50) scale(1.0451,1)" font-size="22.07" font-weight="normal" fill="#262626">20</text>
<line x1="1709.50" y1="1266.00" x2="1709.50" y2="1249.60" stroke="#262626" stroke-width="1" />
<text transform="translate(1696.83,1294.50) scale(1.0311,1)" font-size="22.07" font-weight="normal" fill="#262626">21</text>
<line x1="1777.50" y1="1266.00" x2="1777.50" y2="1249.60" stroke="#262626" stroke-width="1" />
<text transform="translate(1764.91,1294.50) scale(1.0253,1)" font-size="22.07" font-weight="normal" fill="#262626">22</text>
<line x1="1845.50" y1="1266.00" x2="1845.50" y2="1249.60" stroke="#262626" stroke-width="1" />
<text transform="translate(1832.69,1294.50) scale(1.0375,1)" font-size="22.07" font-weight="normal" fill="#262626">23</text>
<line x1="1914.50" y1="1266.00" x2="1914.50" y2="1249.60" stroke="#262626" stroke-width="1" />
<rect x="1487.2" y="933.5" width="110.6" height="39.6" fill="#fff" stroke="#00ffff" stroke-width="1.2"/>
<text transform="translate(1494.14,961.00) scale(1.0817,1)" font-size="22.09" font-weight="normal" fill="#000">time now</text>
<text transform="translate(240.00,1190.02) rotate(-90) scale(1.0453,1)" font-size="24.26" font-weight="normal" fill="#262626">Warning Values</text>
<text transform="translate(1021.00,1326.50) scale(1.0249,1)" font-size="24.26" font-weight="normal" fill="#262626">Time UTC / h</text>
<text transform="translate(848.39,1359.00) scale(1.0575,1)" font-size="22.07" font-weight="normal" fill="#000">Last updated: Sun 28 Sep 2025 06:50:36 NZDT</text>
</svg></body></html>
